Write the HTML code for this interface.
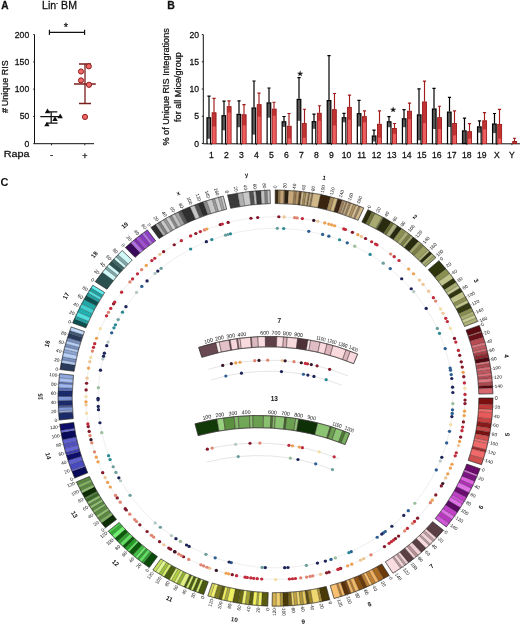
<!DOCTYPE html>
<html><head><meta charset="utf-8"><style>
html,body{margin:0;padding:0;background:#fff;width:520px;height:625px;overflow:hidden}
svg{display:block;will-change:transform;filter:blur(0.3px)}
text{font-family:"Liberation Sans", sans-serif;fill:#111}
.ab text{stroke:#111;stroke-width:0.26px}
</style></head><body>
<svg width="520" height="625" viewBox="0 0 520 625">
<g class="ab">
<text x="1.2" y="8.8" font-size="10.1" font-weight="bold">A</text>
<text x="42.0" y="9.0" font-size="10.2" textLength="35" lengthAdjust="spacingAndGlyphs">Lin<tspan font-size="6" dy="-3.6">-</tspan><tspan dy="3.6"> BM</tspan></text>
<path d="M49.4 32.3H84.6M49.4 29.8V35.0M84.6 29.8V35.0" stroke="#111" stroke-width="1.15" fill="none"/>
<text x="66.0" y="31.2" font-size="11" text-anchor="middle" stroke="#111" stroke-width="0.3">*</text>
<path d="M34.5 34.6V143.7H94" stroke="#111" stroke-width="1" fill="none"/>
<path d="M33.2 143.7H34.5" stroke="#111" stroke-width="0.9"/>
<text x="29.2" y="146.7" font-size="8.6" text-anchor="end">0</text>
<path d="M33.2 116.4H34.5" stroke="#111" stroke-width="0.9"/>
<text x="29.2" y="119.4" font-size="8.6" text-anchor="end">50</text>
<path d="M33.2 89.1H34.5" stroke="#111" stroke-width="0.9"/>
<text x="29.2" y="92.1" font-size="8.6" text-anchor="end">100</text>
<path d="M33.2 61.9H34.5" stroke="#111" stroke-width="0.9"/>
<text x="29.2" y="64.9" font-size="8.6" text-anchor="end">150</text>
<path d="M33.2 34.6H34.5" stroke="#111" stroke-width="0.9"/>
<text x="29.2" y="37.6" font-size="8.6" text-anchor="end">200</text>
<path d="M51.5 143.7V145.29999999999998" stroke="#111" stroke-width="0.9"/>
<path d="M84.8 143.7V145.29999999999998" stroke="#111" stroke-width="0.9"/>
<text x="3.8" y="156.9" font-size="9.8" textLength="25.8" lengthAdjust="spacingAndGlyphs">Rapa</text>
<text x="51.5" y="158.4" font-size="9" text-anchor="middle">-</text>
<text x="84.8" y="158.6" font-size="9" text-anchor="middle">+</text>
<text transform="translate(8.2,86.7) rotate(-90)" font-size="9" text-anchor="middle">#&#8201;Unique RIS</text>
<path d="M40.3 116.6H61.3M51.2 111.9V123.1M46.4 111.9H57.3M47.0 123.1H57.6" stroke="#111" stroke-width="1.25"/>
<path d="M47.5 108.6L50.2 113.2H44.8Z" fill="#111"/>
<path d="M60.2 113.6L62.9 118.2H57.5Z" fill="#111"/>
<path d="M55.0 116.3L57.7 120.9H52.3Z" fill="#111"/>
<path d="M46.9 121.7L49.6 126.3H44.2Z" fill="#111"/>
<path d="M74 84H95.8M85 64V103.5M79 64H91M79 103.5H91" stroke="#7a1e1e" stroke-width="1.3"/>
<circle cx="88.8" cy="66.3" r="2.6" fill="#ee6868" stroke="#8a1818" stroke-width="0.95"/>
<circle cx="81.0" cy="71.5" r="2.6" fill="#ee6868" stroke="#8a1818" stroke-width="0.95"/>
<circle cx="81.0" cy="80.4" r="2.6" fill="#ee6868" stroke="#8a1818" stroke-width="0.95"/>
<circle cx="89.0" cy="84.8" r="2.6" fill="#ee6868" stroke="#8a1818" stroke-width="0.95"/>
<circle cx="85.0" cy="116.9" r="2.6" fill="#ee6868" stroke="#8a1818" stroke-width="0.95"/>
<text x="167.3" y="9.0" font-size="10.5" font-weight="bold">B</text>
<path d="M203.3 34.6V143.8H520" stroke="#111" stroke-width="1" fill="none"/>
<path d="M201.8 143.5H203.3" stroke="#111" stroke-width="0.9"/>
<text x="199.0" y="146.5" font-size="8.6" text-anchor="end">0</text>
<path d="M201.8 116.3H203.3" stroke="#111" stroke-width="0.9"/>
<text x="199.0" y="119.3" font-size="8.6" text-anchor="end">5</text>
<path d="M201.8 89.0H203.3" stroke="#111" stroke-width="0.9"/>
<text x="199.0" y="92.0" font-size="8.6" text-anchor="end">10</text>
<path d="M201.8 61.8H203.3" stroke="#111" stroke-width="0.9"/>
<text x="199.0" y="64.8" font-size="8.6" text-anchor="end">15</text>
<path d="M201.8 34.6H203.3" stroke="#111" stroke-width="0.9"/>
<text x="199.0" y="37.6" font-size="8.6" text-anchor="end">20</text>
<text transform="translate(168.9,86.9) rotate(-90)" font-size="9.1" text-anchor="middle">% of Unique RIS Integrations</text>
<text transform="translate(180.9,87.05) rotate(-90)" font-size="9.1" text-anchor="middle">for all Mice/group</text>
<text x="211.3" y="157.8" font-size="8.6" text-anchor="middle">1</text>
<path d="M211.3 143.5V145.1" stroke="#111" stroke-width="0.8"/>
<path d="M209.00 117.2V96.2M207.40 96.2H210.60" stroke="#000" stroke-width="1.2"/>
<rect x="207.00" y="117.80" width="3.60" height="25.70" fill="#575757" stroke="#000" stroke-width="1.2"/>
<rect x="207.70" y="138.80" width="2.20" height="4.70" fill="#fff"/>
<path d="M214.00 112.3V98.3M212.40 98.3H215.60" stroke="#a01c1c" stroke-width="1.15"/>
<rect x="212.15" y="112.75" width="3.90" height="30.75" fill="#c23434" stroke="#9a1818" stroke-width="0.9"/>
<rect x="212.60" y="126.50" width="3.00" height="17.00" fill="#ee5e5e"/>
<text x="226.3" y="157.8" font-size="8.6" text-anchor="middle">2</text>
<path d="M226.3 143.5V145.1" stroke="#111" stroke-width="0.8"/>
<path d="M224.00 115.1V101.2M222.40 101.2H225.60" stroke="#000" stroke-width="1.2"/>
<rect x="222.03" y="115.70" width="3.60" height="27.80" fill="#575757" stroke="#000" stroke-width="1.2"/>
<rect x="222.73" y="130.30" width="2.20" height="13.20" fill="#fff"/>
<path d="M229.00 106.2V100.9M227.40 100.9H230.60" stroke="#a01c1c" stroke-width="1.15"/>
<rect x="227.18" y="106.65" width="3.90" height="36.85" fill="#c23434" stroke="#9a1818" stroke-width="0.9"/>
<rect x="227.63" y="112.60" width="3.00" height="30.90" fill="#ee5e5e"/>
<text x="241.4" y="157.8" font-size="8.6" text-anchor="middle">3</text>
<path d="M241.4 143.5V145.1" stroke="#111" stroke-width="0.8"/>
<path d="M239.00 113.8V100.8M237.40 100.8H240.60" stroke="#000" stroke-width="1.2"/>
<rect x="237.06" y="114.40" width="3.60" height="29.10" fill="#575757" stroke="#000" stroke-width="1.2"/>
<rect x="237.76" y="127.20" width="2.20" height="16.30" fill="#fff"/>
<path d="M244.00 114.3V104.6M242.40 104.6H245.60" stroke="#a01c1c" stroke-width="1.15"/>
<rect x="242.21" y="114.75" width="3.90" height="28.75" fill="#c23434" stroke="#9a1818" stroke-width="0.9"/>
<rect x="242.66" y="125.40" width="3.00" height="18.10" fill="#ee5e5e"/>
<text x="256.4" y="157.8" font-size="8.6" text-anchor="middle">4</text>
<path d="M256.4 143.5V145.1" stroke="#111" stroke-width="0.8"/>
<path d="M254.00 107.4V81.0M252.40 81.0H255.60" stroke="#000" stroke-width="1.2"/>
<rect x="252.09" y="108.00" width="3.60" height="35.50" fill="#575757" stroke="#000" stroke-width="1.2"/>
<rect x="252.79" y="134.60" width="2.20" height="8.90" fill="#fff"/>
<path d="M259.00 104.2V93.1M257.40 93.1H260.60" stroke="#a01c1c" stroke-width="1.15"/>
<rect x="257.24" y="104.65" width="3.90" height="38.85" fill="#c23434" stroke="#9a1818" stroke-width="0.9"/>
<rect x="257.69" y="116.60" width="3.00" height="26.90" fill="#ee5e5e"/>
<text x="271.4" y="157.8" font-size="8.6" text-anchor="middle">5</text>
<path d="M271.4 143.5V145.1" stroke="#111" stroke-width="0.8"/>
<path d="M269.00 102.3V88.0M267.40 88.0H270.60" stroke="#000" stroke-width="1.2"/>
<rect x="267.12" y="102.90" width="3.60" height="40.60" fill="#575757" stroke="#000" stroke-width="1.2"/>
<rect x="267.82" y="117.70" width="2.20" height="25.80" fill="#fff"/>
<path d="M274.00 108.6V102.2M272.40 102.2H275.60" stroke="#a01c1c" stroke-width="1.15"/>
<rect x="272.27" y="109.05" width="3.90" height="34.45" fill="#c23434" stroke="#9a1818" stroke-width="0.9"/>
<rect x="272.72" y="115.70" width="3.00" height="27.80" fill="#ee5e5e"/>
<text x="286.4" y="157.8" font-size="8.6" text-anchor="middle">6</text>
<path d="M286.4 143.5V145.1" stroke="#111" stroke-width="0.8"/>
<path d="M284.00 121.2V116.5M282.40 116.5H285.60" stroke="#000" stroke-width="1.2"/>
<rect x="282.15" y="121.80" width="3.60" height="21.70" fill="#575757" stroke="#000" stroke-width="1.2"/>
<rect x="282.85" y="126.90" width="2.20" height="16.60" fill="#fff"/>
<path d="M289.00 125.8V113.5M287.40 113.5H290.60" stroke="#a01c1c" stroke-width="1.15"/>
<rect x="287.30" y="126.25" width="3.90" height="17.25" fill="#c23434" stroke="#9a1818" stroke-width="0.9"/>
<rect x="287.75" y="138.50" width="3.00" height="5.00" fill="#ee5e5e"/>
<text x="301.5" y="157.8" font-size="8.6" text-anchor="middle">7</text>
<path d="M301.5 143.5V145.1" stroke="#111" stroke-width="0.8"/>
<path d="M299.00 98.8V77.7M297.40 77.7H300.60" stroke="#000" stroke-width="1.2"/>
<rect x="297.18" y="99.40" width="3.60" height="44.10" fill="#575757" stroke="#000" stroke-width="1.2"/>
<rect x="297.88" y="120.80" width="2.20" height="22.70" fill="#fff"/>
<path d="M304.50 123.1V109.2M302.90 109.2H306.10" stroke="#a01c1c" stroke-width="1.15"/>
<rect x="302.33" y="123.55" width="3.90" height="19.95" fill="#c23434" stroke="#9a1818" stroke-width="0.9"/>
<rect x="302.78" y="137.70" width="3.00" height="5.80" fill="#ee5e5e"/>
<text x="316.5" y="157.8" font-size="8.6" text-anchor="middle">8</text>
<path d="M316.5 143.5V145.1" stroke="#111" stroke-width="0.8"/>
<path d="M314.00 121.1V114.2M312.40 114.2H315.60" stroke="#000" stroke-width="1.2"/>
<rect x="312.21" y="121.70" width="3.60" height="21.80" fill="#575757" stroke="#000" stroke-width="1.2"/>
<rect x="312.91" y="128.80" width="2.20" height="14.70" fill="#fff"/>
<path d="M319.50 112.8V105.7M317.90 105.7H321.10" stroke="#a01c1c" stroke-width="1.15"/>
<rect x="317.36" y="113.25" width="3.90" height="30.25" fill="#c23434" stroke="#9a1818" stroke-width="0.9"/>
<rect x="317.81" y="120.80" width="3.00" height="22.70" fill="#ee5e5e"/>
<text x="331.5" y="157.8" font-size="8.6" text-anchor="middle">9</text>
<path d="M331.5 143.5V145.1" stroke="#111" stroke-width="0.8"/>
<path d="M329.00 100.0V55.6M327.40 55.6H330.60" stroke="#000" stroke-width="1.2"/>
<rect x="327.24" y="100.60" width="3.60" height="42.90" fill="#575757" stroke="#000" stroke-width="1.2"/>
<path d="M334.50 109.2V93.5M332.90 93.5H336.10" stroke="#a01c1c" stroke-width="1.15"/>
<rect x="332.39" y="109.65" width="3.90" height="33.85" fill="#c23434" stroke="#9a1818" stroke-width="0.9"/>
<rect x="332.84" y="125.40" width="3.00" height="18.10" fill="#ee5e5e"/>
<text x="346.6" y="157.8" font-size="8.6" text-anchor="middle">10</text>
<path d="M346.6 143.5V145.1" stroke="#111" stroke-width="0.8"/>
<path d="M344.00 117.2V113.4M342.40 113.4H345.60" stroke="#000" stroke-width="1.2"/>
<rect x="342.27" y="117.80" width="3.60" height="25.70" fill="#575757" stroke="#000" stroke-width="1.2"/>
<rect x="342.97" y="122.30" width="2.20" height="21.20" fill="#fff"/>
<path d="M349.50 106.9V95.1M347.90 95.1H351.10" stroke="#a01c1c" stroke-width="1.15"/>
<rect x="347.42" y="107.35" width="3.90" height="36.15" fill="#c23434" stroke="#9a1818" stroke-width="0.9"/>
<rect x="347.87" y="119.70" width="3.00" height="23.80" fill="#ee5e5e"/>
<text x="361.6" y="157.8" font-size="8.6" text-anchor="middle">11</text>
<path d="M361.6 143.5V145.1" stroke="#111" stroke-width="0.8"/>
<path d="M359.00 113.1V100.3M357.40 100.3H360.60" stroke="#000" stroke-width="1.2"/>
<rect x="357.30" y="113.70" width="3.60" height="29.80" fill="#575757" stroke="#000" stroke-width="1.2"/>
<rect x="358.00" y="126.50" width="2.20" height="17.00" fill="#fff"/>
<path d="M364.50 116.2V110.8M362.90 110.8H366.10" stroke="#a01c1c" stroke-width="1.15"/>
<rect x="362.45" y="116.65" width="3.90" height="26.85" fill="#c23434" stroke="#9a1818" stroke-width="0.9"/>
<rect x="362.90" y="122.30" width="3.00" height="21.20" fill="#ee5e5e"/>
<text x="376.6" y="157.8" font-size="8.6" text-anchor="middle">12</text>
<path d="M376.6 143.5V145.1" stroke="#111" stroke-width="0.8"/>
<path d="M374.00 135.4V130.2M372.40 130.2H375.60" stroke="#000" stroke-width="1.2"/>
<rect x="372.33" y="136.00" width="3.60" height="7.50" fill="#575757" stroke="#000" stroke-width="1.2"/>
<rect x="373.03" y="141.50" width="2.20" height="2.00" fill="#fff"/>
<path d="M379.50 123.8V110.8M377.90 110.8H381.10" stroke="#a01c1c" stroke-width="1.15"/>
<rect x="377.48" y="124.25" width="3.90" height="19.25" fill="#c23434" stroke="#9a1818" stroke-width="0.9"/>
<rect x="377.93" y="137.70" width="3.00" height="5.80" fill="#ee5e5e"/>
<text x="391.7" y="157.8" font-size="8.6" text-anchor="middle">13</text>
<path d="M391.7 143.5V145.1" stroke="#111" stroke-width="0.8"/>
<path d="M389.00 121.2V116.6M387.40 116.6H390.60" stroke="#000" stroke-width="1.2"/>
<rect x="387.36" y="121.80" width="3.60" height="21.70" fill="#575757" stroke="#000" stroke-width="1.2"/>
<rect x="388.06" y="127.20" width="2.20" height="16.30" fill="#fff"/>
<path d="M394.50 128.0V123.5M392.90 123.5H396.10" stroke="#a01c1c" stroke-width="1.15"/>
<rect x="392.51" y="128.45" width="3.90" height="15.05" fill="#c23434" stroke="#9a1818" stroke-width="0.9"/>
<rect x="392.96" y="133.80" width="3.00" height="9.70" fill="#ee5e5e"/>
<text x="406.7" y="157.8" font-size="8.6" text-anchor="middle">14</text>
<path d="M406.7 143.5V145.1" stroke="#111" stroke-width="0.8"/>
<path d="M404.00 118.2V109.7M402.40 109.7H405.60" stroke="#000" stroke-width="1.2"/>
<rect x="402.39" y="118.80" width="3.60" height="24.70" fill="#575757" stroke="#000" stroke-width="1.2"/>
<rect x="403.09" y="127.20" width="2.20" height="16.30" fill="#fff"/>
<path d="M409.50 110.8V103.1M407.90 103.1H411.10" stroke="#a01c1c" stroke-width="1.15"/>
<rect x="407.54" y="111.25" width="3.90" height="32.25" fill="#c23434" stroke="#9a1818" stroke-width="0.9"/>
<rect x="407.99" y="119.20" width="3.00" height="24.30" fill="#ee5e5e"/>
<text x="421.7" y="157.8" font-size="8.6" text-anchor="middle">15</text>
<path d="M421.7 143.5V145.1" stroke="#111" stroke-width="0.8"/>
<path d="M419.00 114.3V88.8M417.40 88.8H420.60" stroke="#000" stroke-width="1.2"/>
<rect x="417.42" y="114.90" width="3.60" height="28.60" fill="#575757" stroke="#000" stroke-width="1.2"/>
<rect x="418.12" y="140.30" width="2.20" height="3.20" fill="#fff"/>
<path d="M424.50 101.5V81.1M422.90 81.1H426.10" stroke="#a01c1c" stroke-width="1.15"/>
<rect x="422.57" y="101.95" width="3.90" height="41.55" fill="#c23434" stroke="#9a1818" stroke-width="0.9"/>
<rect x="423.02" y="123.10" width="3.00" height="20.40" fill="#ee5e5e"/>
<text x="436.8" y="157.8" font-size="8.6" text-anchor="middle">16</text>
<path d="M436.8 143.5V145.1" stroke="#111" stroke-width="0.8"/>
<path d="M434.00 108.4V88.3M432.40 88.3H435.60" stroke="#000" stroke-width="1.2"/>
<rect x="432.45" y="109.00" width="3.60" height="34.50" fill="#575757" stroke="#000" stroke-width="1.2"/>
<rect x="433.15" y="129.00" width="2.20" height="14.50" fill="#fff"/>
<path d="M439.50 117.2V106.2M437.90 106.2H441.10" stroke="#a01c1c" stroke-width="1.15"/>
<rect x="437.60" y="117.65" width="3.90" height="25.85" fill="#c23434" stroke="#9a1818" stroke-width="0.9"/>
<rect x="438.05" y="129.00" width="3.00" height="14.50" fill="#ee5e5e"/>
<text x="451.8" y="157.8" font-size="8.6" text-anchor="middle">17</text>
<path d="M451.8 143.5V145.1" stroke="#111" stroke-width="0.8"/>
<path d="M449.50 111.5V97.4M447.90 97.4H451.10" stroke="#000" stroke-width="1.2"/>
<rect x="447.48" y="112.10" width="3.60" height="31.40" fill="#575757" stroke="#000" stroke-width="1.2"/>
<rect x="448.18" y="127.00" width="2.20" height="16.50" fill="#fff"/>
<path d="M454.50 123.0V110.8M452.90 110.8H456.10" stroke="#a01c1c" stroke-width="1.15"/>
<rect x="452.63" y="123.45" width="3.90" height="20.05" fill="#c23434" stroke="#9a1818" stroke-width="0.9"/>
<rect x="453.08" y="135.40" width="3.00" height="8.10" fill="#ee5e5e"/>
<text x="466.8" y="157.8" font-size="8.6" text-anchor="middle">18</text>
<path d="M466.8 143.5V145.1" stroke="#111" stroke-width="0.8"/>
<path d="M464.50 130.3V118.1M462.90 118.1H466.10" stroke="#000" stroke-width="1.2"/>
<rect x="462.51" y="130.90" width="3.60" height="12.60" fill="#575757" stroke="#000" stroke-width="1.2"/>
<path d="M469.50 131.2V123.6M467.90 123.6H471.10" stroke="#a01c1c" stroke-width="1.15"/>
<rect x="467.66" y="131.65" width="3.90" height="11.85" fill="#c23434" stroke="#9a1818" stroke-width="0.9"/>
<rect x="468.11" y="138.60" width="3.00" height="4.90" fill="#ee5e5e"/>
<text x="481.8" y="157.8" font-size="8.6" text-anchor="middle">19</text>
<path d="M481.8 143.5V145.1" stroke="#111" stroke-width="0.8"/>
<path d="M479.50 126.3V120.8M477.90 120.8H481.10" stroke="#000" stroke-width="1.2"/>
<rect x="477.54" y="126.90" width="3.60" height="16.60" fill="#575757" stroke="#000" stroke-width="1.2"/>
<rect x="478.24" y="132.70" width="2.20" height="10.80" fill="#fff"/>
<path d="M484.50 120.3V112.6M482.90 112.6H486.10" stroke="#a01c1c" stroke-width="1.15"/>
<rect x="482.69" y="120.75" width="3.90" height="22.75" fill="#c23434" stroke="#9a1818" stroke-width="0.9"/>
<rect x="483.14" y="129.40" width="3.00" height="14.10" fill="#ee5e5e"/>
<text x="496.9" y="157.8" font-size="8.6" text-anchor="middle">X</text>
<path d="M496.9 143.5V145.1" stroke="#111" stroke-width="0.8"/>
<path d="M494.50 123.4V113.5M492.90 113.5H496.10" stroke="#000" stroke-width="1.2"/>
<rect x="492.57" y="124.00" width="3.60" height="19.50" fill="#575757" stroke="#000" stroke-width="1.2"/>
<rect x="493.27" y="133.10" width="2.20" height="10.40" fill="#fff"/>
<path d="M499.50 124.0V109.3M497.90 109.3H501.10" stroke="#a01c1c" stroke-width="1.15"/>
<rect x="497.72" y="124.45" width="3.90" height="19.05" fill="#c23434" stroke="#9a1818" stroke-width="0.9"/>
<rect x="498.17" y="138.60" width="3.00" height="4.90" fill="#ee5e5e"/>
<text x="511.9" y="157.8" font-size="8.6" text-anchor="middle">Y</text>
<path d="M511.9 143.5V145.1" stroke="#111" stroke-width="0.8"/>
<path d="M514.50 141.0V138.2M512.90 138.2H516.10" stroke="#a01c1c" stroke-width="1.15"/>
<rect x="512.75" y="141.45" width="3.90" height="2.05" fill="#c23434" stroke="#9a1818" stroke-width="0.9"/>
<rect x="513.20" y="143.50" width="3.00" height="0.00" fill="#ee5e5e"/>
<text x="300.4" y="75.6" font-size="6.5" text-anchor="middle">&#9733;</text>
<text x="392.8" y="111.8" font-size="6.5" text-anchor="middle">&#9733;</text>
</g>
<text x="0.6" y="185.7" font-size="11" font-weight="bold">C</text>
<g transform="translate(275.5,398.1) scale(1.045,1)">
<circle r="181.4" fill="none" stroke="#e4e4e4" stroke-width="0.6"/>
<circle r="169.8" fill="none" stroke="#e4e4e4" stroke-width="0.6"/>
<path d="M-0.27 -208.10A208.1 208.1 0 0 1 2.85 -208.08L2.67 -194.58A194.6 194.6 0 0 0 -0.25 -194.60Z" fill="#3a2a14" stroke="#222" stroke-width="0.25"/>
<path d="M2.85 -208.08A208.1 208.1 0 0 1 4.64 -208.05L4.34 -194.55A194.6 194.6 0 0 0 2.67 -194.58Z" fill="#a08050" stroke="#222" stroke-width="0.25"/>
<path d="M4.64 -208.05A208.1 208.1 0 0 1 8.21 -207.94L7.68 -194.45A194.6 194.6 0 0 0 4.34 -194.55Z" fill="#c4a070" stroke="#222" stroke-width="0.25"/>
<path d="M8.21 -207.94A208.1 208.1 0 0 1 9.11 -207.90L8.52 -194.41A194.6 194.6 0 0 0 7.68 -194.45Z" fill="#8a6a40" stroke="#222" stroke-width="0.25"/>
<path d="M9.11 -207.90A208.1 208.1 0 0 1 12.68 -207.71L11.85 -194.24A194.6 194.6 0 0 0 8.52 -194.41Z" fill="#2e2010" stroke="#222" stroke-width="0.25"/>
<path d="M12.68 -207.71A208.1 208.1 0 0 1 18.02 -207.32L16.85 -193.87A194.6 194.6 0 0 0 11.85 -194.24Z" fill="#c8a878" stroke="#222" stroke-width="0.25"/>
<path d="M18.02 -207.32A208.1 208.1 0 0 1 20.25 -207.11L18.93 -193.68A194.6 194.6 0 0 0 16.85 -193.87Z" fill="#9a7a4c" stroke="#222" stroke-width="0.25"/>
<path d="M20.25 -207.11A208.1 208.1 0 0 1 22.91 -206.83L21.43 -193.42A194.6 194.6 0 0 0 18.93 -193.68Z" fill="#b89868" stroke="#222" stroke-width="0.25"/>
<path d="M22.91 -206.83A208.1 208.1 0 0 1 25.13 -206.58L23.50 -193.18A194.6 194.6 0 0 0 21.43 -193.42Z" fill="#5a4020" stroke="#222" stroke-width="0.25"/>
<path d="M25.13 -206.58A208.1 208.1 0 0 1 27.35 -206.30L25.57 -192.91A194.6 194.6 0 0 0 23.50 -193.18Z" fill="#d0b888" stroke="#222" stroke-width="0.25"/>
<path d="M27.35 -206.30A208.1 208.1 0 0 1 29.56 -205.99L27.64 -192.63A194.6 194.6 0 0 0 25.57 -192.91Z" fill="#a08858" stroke="#222" stroke-width="0.25"/>
<path d="M29.56 -205.99A208.1 208.1 0 0 1 31.77 -205.66L29.71 -192.32A194.6 194.6 0 0 0 27.64 -192.63Z" fill="#c8b080" stroke="#222" stroke-width="0.25"/>
<path d="M31.77 -205.66A208.1 208.1 0 0 1 33.09 -205.45L30.95 -192.12A194.6 194.6 0 0 0 29.71 -192.32Z" fill="#8a7048" stroke="#222" stroke-width="0.25"/>
<path d="M33.09 -205.45A208.1 208.1 0 0 1 34.85 -205.16L32.59 -191.85A194.6 194.6 0 0 0 30.95 -192.12Z" fill="#d0b888" stroke="#222" stroke-width="0.25"/>
<path d="M34.85 -205.16A208.1 208.1 0 0 1 36.18 -204.93L33.83 -191.64A194.6 194.6 0 0 0 32.59 -191.85Z" fill="#9a8050" stroke="#222" stroke-width="0.25"/>
<path d="M36.18 -204.93A208.1 208.1 0 0 1 43.19 -203.57L40.39 -190.36A194.6 194.6 0 0 0 33.83 -191.64Z" fill="#d0b888" stroke="#222" stroke-width="0.25"/>
<path d="M43.19 -203.57A208.1 208.1 0 0 1 52.75 -201.30L49.33 -188.24A194.6 194.6 0 0 0 40.39 -190.36Z" fill="#3a2410" stroke="#222" stroke-width="0.25"/>
<path d="M52.75 -201.30A208.1 208.1 0 0 1 56.20 -200.37L52.56 -187.37A194.6 194.6 0 0 0 49.33 -188.24Z" fill="#a88a58" stroke="#222" stroke-width="0.25"/>
<path d="M56.20 -200.37A208.1 208.1 0 0 1 59.64 -199.37L55.77 -186.44A194.6 194.6 0 0 0 52.56 -187.37Z" fill="#d0b880" stroke="#222" stroke-width="0.25"/>
<path d="M59.64 -199.37A208.1 208.1 0 0 1 63.90 -198.05L59.76 -185.20A194.6 194.6 0 0 0 55.77 -186.44Z" fill="#3a2412" stroke="#222" stroke-width="0.25"/>
<path d="M63.90 -198.05A208.1 208.1 0 0 1 66.45 -197.21L62.14 -184.41A194.6 194.6 0 0 0 59.76 -185.20Z" fill="#a08060" stroke="#222" stroke-width="0.25"/>
<path d="M66.45 -197.21A208.1 208.1 0 0 1 67.72 -196.77L63.32 -184.01A194.6 194.6 0 0 0 62.14 -184.41Z" fill="#d0b888" stroke="#222" stroke-width="0.25"/>
<path d="M67.72 -196.77A208.1 208.1 0 0 1 68.98 -196.33L64.51 -183.60A194.6 194.6 0 0 0 63.32 -184.01Z" fill="#a08060" stroke="#222" stroke-width="0.25"/>
<path d="M68.98 -196.33A208.1 208.1 0 0 1 70.67 -195.73L66.08 -183.04A194.6 194.6 0 0 0 64.51 -183.60Z" fill="#d0b888" stroke="#222" stroke-width="0.25"/>
<path d="M70.67 -195.73A208.1 208.1 0 0 1 72.34 -195.12L67.65 -182.46A194.6 194.6 0 0 0 66.08 -183.04Z" fill="#a08060" stroke="#222" stroke-width="0.25"/>
<path d="M72.34 -195.12A208.1 208.1 0 0 1 74.85 -194.17L70.00 -181.58A194.6 194.6 0 0 0 67.65 -182.46Z" fill="#d0b888" stroke="#222" stroke-width="0.25"/>
<path d="M74.85 -194.17A208.1 208.1 0 0 1 77.35 -193.19L72.33 -180.66A194.6 194.6 0 0 0 70.00 -181.58Z" fill="#b09060" stroke="#222" stroke-width="0.25"/>
<path d="M77.35 -193.19A208.1 208.1 0 0 1 79.83 -192.18L74.65 -179.71A194.6 194.6 0 0 0 72.33 -180.66Z" fill="#d4bc8c" stroke="#222" stroke-width="0.25"/>
<path d="M79.83 -192.18A208.1 208.1 0 0 1 81.47 -191.49L76.19 -179.07A194.6 194.6 0 0 0 74.65 -179.71Z" fill="#a08060" stroke="#222" stroke-width="0.25"/>
<path d="M81.47 -191.49A208.1 208.1 0 0 1 84.54 -190.16L79.05 -177.82A194.6 194.6 0 0 0 76.19 -179.07Z" fill="#d0b888" stroke="#222" stroke-width="0.25"/>
<path d="M-0.27 -208.10A208.1 208.1 0 0 1 84.54 -190.16L79.05 -177.82A194.6 194.6 0 0 0 -0.25 -194.60Z" fill="none" stroke="#222" stroke-width="0.5"/>
<path d="M-0.27 -208.40L-0.27 -209.90" stroke="#666" stroke-width="0.4"/>
<text transform="translate(-0.28,-210.10) rotate(89.9)" font-size="4.6" fill="#6a6a6a" text-anchor="end" dy="1.6">0</text>
<path d="M8.67 -208.22L8.73 -209.72" stroke="#666" stroke-width="0.4"/>
<text transform="translate(8.74,-209.92) rotate(-87.6)" font-size="4.6" fill="#6a6a6a" text-anchor="start" dy="1.6">20</text>
<path d="M17.60 -207.66L17.73 -209.15" stroke="#666" stroke-width="0.4"/>
<text transform="translate(17.75,-209.35) rotate(-85.2)" font-size="4.6" fill="#6a6a6a" text-anchor="start" dy="1.6">40</text>
<path d="M26.50 -206.71L26.69 -208.20" stroke="#666" stroke-width="0.4"/>
<text transform="translate(26.71,-208.39) rotate(-82.7)" font-size="4.6" fill="#6a6a6a" text-anchor="start" dy="1.6">60</text>
<path d="M35.35 -205.38L35.60 -206.86" stroke="#666" stroke-width="0.4"/>
<text transform="translate(35.63,-207.06) rotate(-80.2)" font-size="4.6" fill="#6a6a6a" text-anchor="start" dy="1.6">80</text>
<path d="M44.13 -203.67L44.45 -205.14" stroke="#666" stroke-width="0.4"/>
<text transform="translate(44.49,-205.34) rotate(-77.8)" font-size="4.6" fill="#6a6a6a" text-anchor="start" dy="1.6">100</text>
<path d="M52.83 -201.59L53.21 -203.04" stroke="#666" stroke-width="0.4"/>
<text transform="translate(53.26,-203.24) rotate(-75.3)" font-size="4.6" fill="#6a6a6a" text-anchor="start" dy="1.6">120</text>
<path d="M61.43 -199.14L61.88 -200.57" stroke="#666" stroke-width="0.4"/>
<text transform="translate(61.94,-200.76) rotate(-72.9)" font-size="4.6" fill="#6a6a6a" text-anchor="start" dy="1.6">140</text>
<path d="M69.93 -196.32L70.43 -197.73" stroke="#666" stroke-width="0.4"/>
<text transform="translate(70.50,-197.92) rotate(-70.4)" font-size="4.6" fill="#6a6a6a" text-anchor="start" dy="1.6">160</text>
<path d="M78.29 -193.14L78.85 -194.53" stroke="#666" stroke-width="0.4"/>
<text transform="translate(78.93,-194.71) rotate(-67.9)" font-size="4.6" fill="#6a6a6a" text-anchor="start" dy="1.6">180</text>
<text transform="translate(46.57,-220.13) rotate(11.9)" font-size="6" font-weight="bold" font-family="Liberation Serif, serif" text-anchor="middle" dy="2">1</text>
<path d="M88.40 -188.39A208.1 208.1 0 0 1 92.42 -186.45L86.43 -174.35A194.6 194.6 0 0 0 82.67 -176.17Z" fill="#2a2c0c" stroke="#222" stroke-width="0.25"/>
<path d="M92.42 -186.45A208.1 208.1 0 0 1 95.61 -184.83L89.41 -172.84A194.6 194.6 0 0 0 86.43 -174.35Z" fill="#6e7238" stroke="#222" stroke-width="0.25"/>
<path d="M95.61 -184.83A208.1 208.1 0 0 1 102.29 -181.22L95.66 -169.47A194.6 194.6 0 0 0 89.41 -172.84Z" fill="#a8aa70" stroke="#222" stroke-width="0.25"/>
<path d="M102.29 -181.22A208.1 208.1 0 0 1 103.46 -180.56L96.75 -168.85A194.6 194.6 0 0 0 95.66 -169.47Z" fill="#7a7e44" stroke="#222" stroke-width="0.25"/>
<path d="M103.46 -180.56A208.1 208.1 0 0 1 110.73 -176.19L103.55 -164.76A194.6 194.6 0 0 0 96.75 -168.85Z" fill="#2a2c10" stroke="#222" stroke-width="0.25"/>
<path d="M110.73 -176.19A208.1 208.1 0 0 1 113.37 -174.51L106.01 -163.19A194.6 194.6 0 0 0 103.55 -164.76Z" fill="#6a6e34" stroke="#222" stroke-width="0.25"/>
<path d="M113.37 -174.51A208.1 208.1 0 0 1 116.72 -172.29L109.15 -161.11A194.6 194.6 0 0 0 106.01 -163.19Z" fill="#a8ac78" stroke="#222" stroke-width="0.25"/>
<path d="M116.72 -172.29A208.1 208.1 0 0 1 120.75 -169.48L112.92 -158.49A194.6 194.6 0 0 0 109.15 -161.11Z" fill="#262810" stroke="#222" stroke-width="0.25"/>
<path d="M120.75 -169.48A208.1 208.1 0 0 1 124.72 -166.58L116.63 -155.78A194.6 194.6 0 0 0 112.92 -158.49Z" fill="#8a8e50" stroke="#222" stroke-width="0.25"/>
<path d="M124.72 -166.58A208.1 208.1 0 0 1 127.57 -164.42L119.29 -153.75A194.6 194.6 0 0 0 116.63 -155.78Z" fill="#a8ac70" stroke="#222" stroke-width="0.25"/>
<path d="M127.57 -164.42A208.1 208.1 0 0 1 130.02 -162.48L121.59 -151.94A194.6 194.6 0 0 0 119.29 -153.75Z" fill="#7a7e44" stroke="#222" stroke-width="0.25"/>
<path d="M130.02 -162.48A208.1 208.1 0 0 1 131.76 -161.08L123.21 -150.63A194.6 194.6 0 0 0 121.59 -151.94Z" fill="#a8ac70" stroke="#222" stroke-width="0.25"/>
<path d="M131.76 -161.08A208.1 208.1 0 0 1 136.88 -156.75L128.00 -146.58A194.6 194.6 0 0 0 123.21 -150.63Z" fill="#2a2c10" stroke="#222" stroke-width="0.25"/>
<path d="M136.88 -156.75A208.1 208.1 0 0 1 139.22 -154.68L130.18 -144.64A194.6 194.6 0 0 0 128.00 -146.58Z" fill="#a0a468" stroke="#222" stroke-width="0.25"/>
<path d="M139.22 -154.68A208.1 208.1 0 0 1 141.85 -152.26L132.65 -142.38A194.6 194.6 0 0 0 130.18 -144.64Z" fill="#7a7e44" stroke="#222" stroke-width="0.25"/>
<path d="M141.85 -152.26A208.1 208.1 0 0 1 146.05 -148.24L136.57 -138.63A194.6 194.6 0 0 0 132.65 -142.38Z" fill="#9a9e60" stroke="#222" stroke-width="0.25"/>
<path d="M146.05 -148.24A208.1 208.1 0 0 1 147.63 -146.67L138.05 -137.15A194.6 194.6 0 0 0 136.57 -138.63Z" fill="#b0b478" stroke="#222" stroke-width="0.25"/>
<path d="M147.63 -146.67A208.1 208.1 0 0 1 149.82 -144.43L140.10 -135.06A194.6 194.6 0 0 0 138.05 -137.15Z" fill="#2a2c10" stroke="#222" stroke-width="0.25"/>
<path d="M149.82 -144.43A208.1 208.1 0 0 1 151.66 -142.49L141.82 -133.25A194.6 194.6 0 0 0 140.10 -135.06Z" fill="#b0b478" stroke="#222" stroke-width="0.25"/>
<path d="M151.66 -142.49A208.1 208.1 0 0 1 153.52 -140.49L143.56 -131.38A194.6 194.6 0 0 0 141.82 -133.25Z" fill="#a0a468" stroke="#222" stroke-width="0.25"/>
<path d="M88.40 -188.39A208.1 208.1 0 0 1 153.52 -140.49L143.56 -131.38A194.6 194.6 0 0 0 82.67 -176.17Z" fill="none" stroke="#222" stroke-width="0.5"/>
<path d="M88.53 -188.66L89.16 -190.02" stroke="#666" stroke-width="0.4"/>
<text transform="translate(89.25,-190.20) rotate(-64.9)" font-size="4.6" fill="#6a6a6a" text-anchor="start" dy="1.6">0</text>
<path d="M96.54 -184.69L97.24 -186.02" stroke="#666" stroke-width="0.4"/>
<text transform="translate(97.33,-186.20) rotate(-62.4)" font-size="4.6" fill="#6a6a6a" text-anchor="start" dy="1.6">20</text>
<path d="M104.38 -180.37L105.13 -181.67" stroke="#666" stroke-width="0.4"/>
<text transform="translate(105.23,-181.85) rotate(-59.9)" font-size="4.6" fill="#6a6a6a" text-anchor="start" dy="1.6">40</text>
<path d="M112.03 -175.73L112.83 -176.99" stroke="#666" stroke-width="0.4"/>
<text transform="translate(112.94,-177.16) rotate(-57.5)" font-size="4.6" fill="#6a6a6a" text-anchor="start" dy="1.6">60</text>
<path d="M119.47 -170.76L120.33 -171.99" stroke="#666" stroke-width="0.4"/>
<text transform="translate(120.44,-172.15) rotate(-55.0)" font-size="4.6" fill="#6a6a6a" text-anchor="start" dy="1.6">80</text>
<path d="M126.69 -165.47L127.60 -166.66" stroke="#666" stroke-width="0.4"/>
<text transform="translate(127.72,-166.82) rotate(-52.6)" font-size="4.6" fill="#6a6a6a" text-anchor="start" dy="1.6">100</text>
<path d="M133.67 -159.88L134.63 -161.03" stroke="#666" stroke-width="0.4"/>
<text transform="translate(134.76,-161.19) rotate(-50.1)" font-size="4.6" fill="#6a6a6a" text-anchor="start" dy="1.6">120</text>
<path d="M140.41 -154.00L141.42 -155.11" stroke="#666" stroke-width="0.4"/>
<text transform="translate(141.56,-155.25) rotate(-47.6)" font-size="4.6" fill="#6a6a6a" text-anchor="start" dy="1.6">140</text>
<path d="M146.89 -147.83L147.95 -148.89" stroke="#666" stroke-width="0.4"/>
<text transform="translate(148.09,-149.03) rotate(-45.2)" font-size="4.6" fill="#6a6a6a" text-anchor="start" dy="1.6">160</text>
<path d="M153.10 -141.39L154.20 -142.41" stroke="#666" stroke-width="0.4"/>
<text transform="translate(154.35,-142.54) rotate(-42.7)" font-size="4.6" fill="#6a6a6a" text-anchor="start" dy="1.6">180</text>
<text transform="translate(133.32,-181.25) rotate(36.3)" font-size="6" font-weight="bold" font-family="Liberation Serif, serif" text-anchor="middle" dy="2">2</text>
<path d="M156.36 -137.33A208.1 208.1 0 0 1 163.22 -129.09L152.63 -120.72A194.6 194.6 0 0 0 146.21 -128.42Z" fill="#2e340c" stroke="#222" stroke-width="0.25"/>
<path d="M163.22 -129.09A208.1 208.1 0 0 1 166.76 -124.49L155.94 -116.41A194.6 194.6 0 0 0 152.63 -120.72Z" fill="#8a9050" stroke="#222" stroke-width="0.25"/>
<path d="M166.76 -124.49A208.1 208.1 0 0 1 170.17 -119.79L159.13 -112.01A194.6 194.6 0 0 0 155.94 -116.41Z" fill="#c0c488" stroke="#222" stroke-width="0.25"/>
<path d="M170.17 -119.79A208.1 208.1 0 0 1 172.95 -115.73L161.73 -108.23A194.6 194.6 0 0 0 159.13 -112.01Z" fill="#2e340c" stroke="#222" stroke-width="0.25"/>
<path d="M172.95 -115.73A208.1 208.1 0 0 1 174.91 -112.75L163.56 -105.43A194.6 194.6 0 0 0 161.73 -108.23Z" fill="#a8ae70" stroke="#222" stroke-width="0.25"/>
<path d="M174.91 -112.75A208.1 208.1 0 0 1 176.59 -110.11L165.13 -102.96A194.6 194.6 0 0 0 163.56 -105.43Z" fill="#c4c890" stroke="#222" stroke-width="0.25"/>
<path d="M176.59 -110.11A208.1 208.1 0 0 1 178.91 -106.29L167.30 -99.39A194.6 194.6 0 0 0 165.13 -102.96Z" fill="#303610" stroke="#222" stroke-width="0.25"/>
<path d="M178.91 -106.29A208.1 208.1 0 0 1 181.80 -101.26L170.01 -94.69A194.6 194.6 0 0 0 167.30 -99.39Z" fill="#c0c488" stroke="#222" stroke-width="0.25"/>
<path d="M181.80 -101.26A208.1 208.1 0 0 1 183.52 -98.12L171.61 -91.75A194.6 194.6 0 0 0 170.01 -94.69Z" fill="#8a9050" stroke="#222" stroke-width="0.25"/>
<path d="M183.52 -98.12A208.1 208.1 0 0 1 184.97 -95.35L172.97 -89.16A194.6 194.6 0 0 0 171.61 -91.75Z" fill="#c0c488" stroke="#222" stroke-width="0.25"/>
<path d="M184.97 -95.35A208.1 208.1 0 0 1 187.56 -90.15L175.39 -84.30A194.6 194.6 0 0 0 172.97 -89.16Z" fill="#343a12" stroke="#222" stroke-width="0.25"/>
<path d="M187.56 -90.15A208.1 208.1 0 0 1 189.08 -86.92L176.81 -81.28A194.6 194.6 0 0 0 175.39 -84.30Z" fill="#8a9050" stroke="#222" stroke-width="0.25"/>
<path d="M189.08 -86.92A208.1 208.1 0 0 1 190.72 -83.25L178.35 -77.85A194.6 194.6 0 0 0 176.81 -81.28Z" fill="#a8ae70" stroke="#222" stroke-width="0.25"/>
<path d="M190.72 -83.25A208.1 208.1 0 0 1 192.12 -79.96L179.66 -74.77A194.6 194.6 0 0 0 178.35 -77.85Z" fill="#c8cc90" stroke="#222" stroke-width="0.25"/>
<path d="M192.12 -79.96A208.1 208.1 0 0 1 193.48 -76.63L180.92 -71.66A194.6 194.6 0 0 0 179.66 -74.77Z" fill="#b0b478" stroke="#222" stroke-width="0.25"/>
<path d="M156.36 -137.33A208.1 208.1 0 0 1 193.48 -76.63L180.92 -71.66A194.6 194.6 0 0 0 146.21 -128.42Z" fill="none" stroke="#222" stroke-width="0.5"/>
<path d="M156.58 -137.52L157.71 -138.51" stroke="#666" stroke-width="0.4"/>
<text transform="translate(157.86,-138.65) rotate(-41.3)" font-size="4.6" fill="#6a6a6a" text-anchor="start" dy="1.6">0</text>
<path d="M162.34 -130.68L163.51 -131.62" stroke="#666" stroke-width="0.4"/>
<text transform="translate(163.66,-131.74) rotate(-38.8)" font-size="4.6" fill="#6a6a6a" text-anchor="start" dy="1.6">20</text>
<path d="M167.80 -123.59L169.01 -124.48" stroke="#666" stroke-width="0.4"/>
<text transform="translate(169.17,-124.60) rotate(-36.4)" font-size="4.6" fill="#6a6a6a" text-anchor="start" dy="1.6">40</text>
<path d="M172.95 -116.27L174.19 -117.11" stroke="#666" stroke-width="0.4"/>
<text transform="translate(174.36,-117.22) rotate(-33.9)" font-size="4.6" fill="#6a6a6a" text-anchor="start" dy="1.6">60</text>
<path d="M177.78 -108.74L179.06 -109.52" stroke="#666" stroke-width="0.4"/>
<text transform="translate(179.23,-109.63) rotate(-31.5)" font-size="4.6" fill="#6a6a6a" text-anchor="start" dy="1.6">80</text>
<path d="M182.28 -101.01L183.60 -101.74" stroke="#666" stroke-width="0.4"/>
<text transform="translate(183.77,-101.83) rotate(-29.0)" font-size="4.6" fill="#6a6a6a" text-anchor="start" dy="1.6">100</text>
<path d="M186.45 -93.09L187.79 -93.76" stroke="#666" stroke-width="0.4"/>
<text transform="translate(187.97,-93.85) rotate(-26.5)" font-size="4.6" fill="#6a6a6a" text-anchor="start" dy="1.6">120</text>
<path d="M190.28 -85.01L191.64 -85.62" stroke="#666" stroke-width="0.4"/>
<text transform="translate(191.83,-85.70) rotate(-24.1)" font-size="4.6" fill="#6a6a6a" text-anchor="start" dy="1.6">140</text>
<path d="M193.75 -76.76L195.14 -77.31" stroke="#666" stroke-width="0.4"/>
<text transform="translate(195.33,-77.39) rotate(-21.6)" font-size="4.6" fill="#6a6a6a" text-anchor="start" dy="1.6">160</text>
<text transform="translate(191.95,-117.40) rotate(58.5)" font-size="6" font-weight="bold" font-family="Liberation Serif, serif" text-anchor="middle" dy="2">3</text>
<path d="M195.00 -72.67A208.1 208.1 0 0 1 197.10 -66.77L184.31 -62.44A194.6 194.6 0 0 0 182.35 -67.95Z" fill="#5a0a10" stroke="#222" stroke-width="0.25"/>
<path d="M197.10 -66.77A208.1 208.1 0 0 1 197.38 -65.93L184.58 -61.65A194.6 194.6 0 0 0 184.31 -62.44Z" fill="#e08080" stroke="#222" stroke-width="0.25"/>
<path d="M197.38 -65.93A208.1 208.1 0 0 1 199.01 -60.82L186.10 -56.88A194.6 194.6 0 0 0 184.58 -61.65Z" fill="#6a1018" stroke="#222" stroke-width="0.25"/>
<path d="M199.01 -60.82A208.1 208.1 0 0 1 200.51 -55.67L187.51 -52.06A194.6 194.6 0 0 0 186.10 -56.88Z" fill="#b84a54" stroke="#222" stroke-width="0.25"/>
<path d="M200.51 -55.67A208.1 208.1 0 0 1 201.21 -53.09L188.16 -49.64A194.6 194.6 0 0 0 187.51 -52.06Z" fill="#e07880" stroke="#222" stroke-width="0.25"/>
<path d="M201.21 -53.09A208.1 208.1 0 0 1 202.10 -49.62L188.99 -46.40A194.6 194.6 0 0 0 188.16 -49.64Z" fill="#c05a60" stroke="#222" stroke-width="0.25"/>
<path d="M202.10 -49.62A208.1 208.1 0 0 1 202.62 -47.45L189.47 -44.37A194.6 194.6 0 0 0 188.99 -46.40Z" fill="#e07078" stroke="#222" stroke-width="0.25"/>
<path d="M202.62 -47.45A208.1 208.1 0 0 1 203.31 -44.40L190.12 -41.52A194.6 194.6 0 0 0 189.47 -44.37Z" fill="#a84048" stroke="#222" stroke-width="0.25"/>
<path d="M203.31 -44.40A208.1 208.1 0 0 1 204.04 -40.90L190.80 -38.25A194.6 194.6 0 0 0 190.12 -41.52Z" fill="#8a2a30" stroke="#222" stroke-width="0.25"/>
<path d="M204.04 -40.90A208.1 208.1 0 0 1 204.79 -36.95L191.51 -34.56A194.6 194.6 0 0 0 190.80 -38.25Z" fill="#500810" stroke="#222" stroke-width="0.25"/>
<path d="M204.79 -36.95A208.1 208.1 0 0 1 205.18 -34.75L191.87 -32.50A194.6 194.6 0 0 0 191.51 -34.56Z" fill="#e07880" stroke="#222" stroke-width="0.25"/>
<path d="M205.18 -34.75A208.1 208.1 0 0 1 205.74 -31.23L192.40 -29.20A194.6 194.6 0 0 0 191.87 -32.50Z" fill="#b04850" stroke="#222" stroke-width="0.25"/>
<path d="M205.74 -31.23A208.1 208.1 0 0 1 206.13 -28.57L192.76 -26.72A194.6 194.6 0 0 0 192.40 -29.20Z" fill="#e07078" stroke="#222" stroke-width="0.25"/>
<path d="M206.13 -28.57A208.1 208.1 0 0 1 206.59 -25.03L193.19 -23.40A194.6 194.6 0 0 0 192.76 -26.72Z" fill="#c05860" stroke="#222" stroke-width="0.25"/>
<path d="M206.59 -25.03A208.1 208.1 0 0 1 206.89 -22.37L193.47 -20.91A194.6 194.6 0 0 0 193.19 -23.40Z" fill="#e07078" stroke="#222" stroke-width="0.25"/>
<path d="M206.89 -22.37A208.1 208.1 0 0 1 207.17 -19.70L193.73 -18.42A194.6 194.6 0 0 0 193.47 -20.91Z" fill="#b84a54" stroke="#222" stroke-width="0.25"/>
<path d="M207.17 -19.70A208.1 208.1 0 0 1 207.47 -16.14L194.01 -15.09A194.6 194.6 0 0 0 193.73 -18.42Z" fill="#e07880" stroke="#222" stroke-width="0.25"/>
<path d="M207.47 -16.14A208.1 208.1 0 0 1 207.72 -12.57L194.24 -11.76A194.6 194.6 0 0 0 194.01 -15.09Z" fill="#b04850" stroke="#222" stroke-width="0.25"/>
<path d="M207.72 -12.57A208.1 208.1 0 0 1 207.86 -9.90L194.38 -9.25A194.6 194.6 0 0 0 194.24 -11.76Z" fill="#5a0a10" stroke="#222" stroke-width="0.25"/>
<path d="M207.86 -9.90A208.1 208.1 0 0 1 208.06 -4.31L194.56 -4.03A194.6 194.6 0 0 0 194.38 -9.25Z" fill="#d86870" stroke="#222" stroke-width="0.25"/>
<path d="M195.00 -72.67A208.1 208.1 0 0 1 208.06 -4.31L194.56 -4.03A194.6 194.6 0 0 0 182.35 -67.95Z" fill="none" stroke="#222" stroke-width="0.5"/>
<path d="M195.28 -72.77L196.69 -73.29" stroke="#666" stroke-width="0.4"/>
<text transform="translate(196.87,-73.36) rotate(-20.4)" font-size="4.6" fill="#6a6a6a" text-anchor="start" dy="1.6">0</text>
<path d="M198.23 -64.32L199.65 -64.79" stroke="#666" stroke-width="0.4"/>
<text transform="translate(199.84,-64.85) rotate(-18.0)" font-size="4.6" fill="#6a6a6a" text-anchor="start" dy="1.6">20</text>
<path d="M200.80 -55.75L202.25 -56.16" stroke="#666" stroke-width="0.4"/>
<text transform="translate(202.44,-56.21) rotate(-15.5)" font-size="4.6" fill="#6a6a6a" text-anchor="start" dy="1.6">40</text>
<path d="M203.01 -47.08L204.47 -47.42" stroke="#666" stroke-width="0.4"/>
<text transform="translate(204.67,-47.47) rotate(-13.1)" font-size="4.6" fill="#6a6a6a" text-anchor="start" dy="1.6">60</text>
<path d="M204.85 -38.33L206.32 -38.60" stroke="#666" stroke-width="0.4"/>
<text transform="translate(206.52,-38.64) rotate(-10.6)" font-size="4.6" fill="#6a6a6a" text-anchor="start" dy="1.6">80</text>
<path d="M206.30 -29.50L207.79 -29.71" stroke="#666" stroke-width="0.4"/>
<text transform="translate(207.98,-29.74) rotate(-8.1)" font-size="4.6" fill="#6a6a6a" text-anchor="start" dy="1.6">100</text>
<path d="M207.38 -20.62L208.87 -20.77" stroke="#666" stroke-width="0.4"/>
<text transform="translate(209.07,-20.79) rotate(-5.7)" font-size="4.6" fill="#6a6a6a" text-anchor="start" dy="1.6">120</text>
<path d="M208.07 -11.70L209.57 -11.78" stroke="#666" stroke-width="0.4"/>
<text transform="translate(209.77,-11.79) rotate(-3.2)" font-size="4.6" fill="#6a6a6a" text-anchor="start" dy="1.6">140</text>
<text transform="translate(221.01,-42.21) rotate(79.2)" font-size="6" font-weight="bold" font-family="Liberation Serif, serif" text-anchor="middle" dy="2">4</text>
<path d="M208.10 -0.06A208.1 208.1 0 0 1 207.99 6.64L194.50 6.21A194.6 194.6 0 0 0 194.60 -0.06Z" fill="#7a1010" stroke="#222" stroke-width="0.25"/>
<path d="M207.99 6.64A208.1 208.1 0 0 1 207.78 11.55L194.30 10.80A194.6 194.6 0 0 0 194.50 6.21Z" fill="#c03a3a" stroke="#222" stroke-width="0.25"/>
<path d="M207.78 11.55A208.1 208.1 0 0 1 207.58 14.67L194.12 13.72A194.6 194.6 0 0 0 194.30 10.80Z" fill="#f06a6a" stroke="#222" stroke-width="0.25"/>
<path d="M207.58 14.67A208.1 208.1 0 0 1 207.05 20.90L193.62 19.54A194.6 194.6 0 0 0 194.12 13.72Z" fill="#e85a5a" stroke="#222" stroke-width="0.25"/>
<path d="M207.05 20.90A208.1 208.1 0 0 1 206.55 25.34L193.15 23.70A194.6 194.6 0 0 0 193.62 19.54Z" fill="#c84040" stroke="#222" stroke-width="0.25"/>
<path d="M206.55 25.34A208.1 208.1 0 0 1 205.90 30.21L192.54 28.25A194.6 194.6 0 0 0 193.15 23.70Z" fill="#8a1a1a" stroke="#222" stroke-width="0.25"/>
<path d="M205.90 30.21A208.1 208.1 0 0 1 205.27 34.18L191.96 31.96A194.6 194.6 0 0 0 192.54 28.25Z" fill="#c84848" stroke="#222" stroke-width="0.25"/>
<path d="M205.27 34.18A208.1 208.1 0 0 1 204.57 38.14L191.30 35.67A194.6 194.6 0 0 0 191.96 31.96Z" fill="#7a1010" stroke="#222" stroke-width="0.25"/>
<path d="M204.57 38.14A208.1 208.1 0 0 1 203.62 42.96L190.41 40.17A194.6 194.6 0 0 0 191.30 35.67Z" fill="#d05050" stroke="#222" stroke-width="0.25"/>
<path d="M203.62 42.96A208.1 208.1 0 0 1 203.05 45.58L189.87 42.62A194.6 194.6 0 0 0 190.41 40.17Z" fill="#f07070" stroke="#222" stroke-width="0.25"/>
<path d="M203.05 45.58A208.1 208.1 0 0 1 201.59 51.66L188.51 48.31A194.6 194.6 0 0 0 189.87 42.62Z" fill="#f06a6a" stroke="#222" stroke-width="0.25"/>
<path d="M201.59 51.66A208.1 208.1 0 0 1 200.90 54.25L187.87 50.73A194.6 194.6 0 0 0 188.51 48.31Z" fill="#a02a2a" stroke="#222" stroke-width="0.25"/>
<path d="M200.90 54.25A208.1 208.1 0 0 1 199.05 60.69L186.14 56.76A194.6 194.6 0 0 0 187.87 50.73Z" fill="#f06a6a" stroke="#222" stroke-width="0.25"/>
<path d="M199.05 60.69A208.1 208.1 0 0 1 197.16 66.58L184.37 62.26A194.6 194.6 0 0 0 186.14 56.76Z" fill="#d05050" stroke="#222" stroke-width="0.25"/>
<path d="M208.10 -0.06A208.1 208.1 0 0 1 197.16 66.58L184.37 62.26A194.6 194.6 0 0 0 194.60 -0.06Z" fill="none" stroke="#222" stroke-width="0.5"/>
<path d="M208.40 -0.06L209.90 -0.06" stroke="#666" stroke-width="0.4"/>
<text transform="translate(210.10,-0.06) rotate(-0.0)" font-size="4.6" fill="#6a6a6a" text-anchor="start" dy="1.6">0</text>
<path d="M208.21 8.88L209.71 8.95" stroke="#666" stroke-width="0.4"/>
<text transform="translate(209.91,8.96) rotate(2.4)" font-size="4.6" fill="#6a6a6a" text-anchor="start" dy="1.6">20</text>
<path d="M207.64 17.81L209.13 17.94" stroke="#666" stroke-width="0.4"/>
<text transform="translate(209.33,17.96) rotate(4.9)" font-size="4.6" fill="#6a6a6a" text-anchor="start" dy="1.6">40</text>
<path d="M206.68 26.71L208.17 26.90" stroke="#666" stroke-width="0.4"/>
<text transform="translate(208.37,26.93) rotate(7.4)" font-size="4.6" fill="#6a6a6a" text-anchor="start" dy="1.6">60</text>
<path d="M205.34 35.55L206.82 35.81" stroke="#666" stroke-width="0.4"/>
<text transform="translate(207.02,35.84) rotate(9.8)" font-size="4.6" fill="#6a6a6a" text-anchor="start" dy="1.6">80</text>
<path d="M203.63 44.34L205.10 44.65" stroke="#666" stroke-width="0.4"/>
<text transform="translate(205.29,44.70) rotate(12.3)" font-size="4.6" fill="#6a6a6a" text-anchor="start" dy="1.6">100</text>
<path d="M201.54 53.03L202.99 53.42" stroke="#666" stroke-width="0.4"/>
<text transform="translate(203.18,53.47) rotate(14.7)" font-size="4.6" fill="#6a6a6a" text-anchor="start" dy="1.6">120</text>
<path d="M199.08 61.64L200.51 62.08" stroke="#666" stroke-width="0.4"/>
<text transform="translate(200.70,62.14) rotate(17.2)" font-size="4.6" fill="#6a6a6a" text-anchor="start" dy="1.6">140</text>
<text transform="translate(222.03,36.44) rotate(-80.7)" font-size="6" font-weight="bold" font-family="Liberation Serif, serif" text-anchor="middle" dy="2">5</text>
<path d="M195.76 70.59A208.1 208.1 0 0 1 193.39 76.85L180.84 71.87A194.6 194.6 0 0 0 183.06 66.01Z" fill="#6a0a6a" stroke="#222" stroke-width="0.25"/>
<path d="M193.39 76.85A208.1 208.1 0 0 1 192.72 78.51L180.22 73.42A194.6 194.6 0 0 0 180.84 71.87Z" fill="#e070e0" stroke="#222" stroke-width="0.25"/>
<path d="M192.72 78.51A208.1 208.1 0 0 1 190.64 83.45L178.27 78.04A194.6 194.6 0 0 0 180.22 73.42Z" fill="#7a1480" stroke="#222" stroke-width="0.25"/>
<path d="M190.64 83.45A208.1 208.1 0 0 1 188.99 87.12L176.73 81.47A194.6 194.6 0 0 0 178.27 78.04Z" fill="#e060e0" stroke="#222" stroke-width="0.25"/>
<path d="M188.99 87.12A208.1 208.1 0 0 1 187.46 90.35L175.30 84.49A194.6 194.6 0 0 0 176.73 81.47Z" fill="#b030b8" stroke="#222" stroke-width="0.25"/>
<path d="M187.46 90.35A208.1 208.1 0 0 1 185.28 94.75L173.26 88.60A194.6 194.6 0 0 0 175.30 84.49Z" fill="#e070e8" stroke="#222" stroke-width="0.25"/>
<path d="M185.28 94.75A208.1 208.1 0 0 1 182.78 99.49L170.92 93.04A194.6 194.6 0 0 0 173.26 88.60Z" fill="#6a0c70" stroke="#222" stroke-width="0.25"/>
<path d="M182.78 99.49A208.1 208.1 0 0 1 180.60 103.39L168.88 96.68A194.6 194.6 0 0 0 170.92 93.04Z" fill="#c040c8" stroke="#222" stroke-width="0.25"/>
<path d="M180.60 103.39A208.1 208.1 0 0 1 179.02 106.09L167.41 99.21A194.6 194.6 0 0 0 168.88 96.68Z" fill="#d050d8" stroke="#222" stroke-width="0.25"/>
<path d="M179.02 106.09A208.1 208.1 0 0 1 176.94 109.53L165.46 102.43A194.6 194.6 0 0 0 167.41 99.21Z" fill="#e070e8" stroke="#222" stroke-width="0.25"/>
<path d="M176.94 109.53A208.1 208.1 0 0 1 173.82 114.43L162.54 107.00A194.6 194.6 0 0 0 165.46 102.43Z" fill="#5a0a62" stroke="#222" stroke-width="0.25"/>
<path d="M173.82 114.43A208.1 208.1 0 0 1 171.07 118.50L159.97 110.81A194.6 194.6 0 0 0 162.54 107.00Z" fill="#c040c8" stroke="#222" stroke-width="0.25"/>
<path d="M171.07 118.50A208.1 208.1 0 0 1 169.01 121.42L158.04 113.54A194.6 194.6 0 0 0 159.97 110.81Z" fill="#e070e8" stroke="#222" stroke-width="0.25"/>
<path d="M169.01 121.42A208.1 208.1 0 0 1 166.09 125.38L155.32 117.24A194.6 194.6 0 0 0 158.04 113.54Z" fill="#b838c0" stroke="#222" stroke-width="0.25"/>
<path d="M166.09 125.38A208.1 208.1 0 0 1 163.43 128.82L152.83 120.47A194.6 194.6 0 0 0 155.32 117.24Z" fill="#d058d8" stroke="#222" stroke-width="0.25"/>
<path d="M195.76 70.59A208.1 208.1 0 0 1 163.43 128.82L152.83 120.47A194.6 194.6 0 0 0 183.06 66.01Z" fill="none" stroke="#222" stroke-width="0.5"/>
<path d="M196.04 70.69L197.46 71.20" stroke="#666" stroke-width="0.4"/>
<text transform="translate(197.64,71.27) rotate(19.8)" font-size="4.6" fill="#6a6a6a" text-anchor="start" dy="1.6">0</text>
<path d="M192.83 79.04L194.22 79.61" stroke="#666" stroke-width="0.4"/>
<text transform="translate(194.40,79.68) rotate(22.3)" font-size="4.6" fill="#6a6a6a" text-anchor="start" dy="1.6">20</text>
<path d="M189.26 87.24L190.62 87.87" stroke="#666" stroke-width="0.4"/>
<text transform="translate(190.80,87.95) rotate(24.7)" font-size="4.6" fill="#6a6a6a" text-anchor="start" dy="1.6">40</text>
<path d="M185.34 95.29L186.67 95.97" stroke="#666" stroke-width="0.4"/>
<text transform="translate(186.85,96.06) rotate(27.2)" font-size="4.6" fill="#6a6a6a" text-anchor="start" dy="1.6">60</text>
<path d="M181.08 103.15L182.38 103.90" stroke="#666" stroke-width="0.4"/>
<text transform="translate(182.56,103.99) rotate(29.7)" font-size="4.6" fill="#6a6a6a" text-anchor="start" dy="1.6">80</text>
<path d="M176.49 110.83L177.76 111.63" stroke="#666" stroke-width="0.4"/>
<text transform="translate(177.93,111.73) rotate(32.1)" font-size="4.6" fill="#6a6a6a" text-anchor="start" dy="1.6">100</text>
<path d="M171.57 118.30L172.80 119.15" stroke="#666" stroke-width="0.4"/>
<text transform="translate(172.97,119.27) rotate(34.6)" font-size="4.6" fill="#6a6a6a" text-anchor="start" dy="1.6">120</text>
<path d="M166.33 125.56L167.53 126.46" stroke="#666" stroke-width="0.4"/>
<text transform="translate(167.69,126.58) rotate(37.0)" font-size="4.6" fill="#6a6a6a" text-anchor="start" dy="1.6">140</text>
<text transform="translate(196.72,109.21) rotate(-61.0)" font-size="6" font-weight="bold" font-family="Liberation Serif, serif" text-anchor="middle" dy="2">6</text>
<path d="M160.77 132.13A208.1 208.1 0 0 1 154.05 139.91L144.06 130.83A194.6 194.6 0 0 0 150.34 123.56Z" fill="#5a4044" stroke="#222" stroke-width="0.25"/>
<path d="M154.05 139.91A208.1 208.1 0 0 1 152.24 141.88L142.36 132.67A194.6 194.6 0 0 0 144.06 130.83Z" fill="#f0d0d4" stroke="#222" stroke-width="0.25"/>
<path d="M152.24 141.88A208.1 208.1 0 0 1 150.70 143.50L140.93 134.20A194.6 194.6 0 0 0 142.36 132.67Z" fill="#c0a0a4" stroke="#222" stroke-width="0.25"/>
<path d="M150.70 143.50A208.1 208.1 0 0 1 148.22 146.07L138.60 136.60A194.6 194.6 0 0 0 140.93 134.20Z" fill="#f0d4d8" stroke="#222" stroke-width="0.25"/>
<path d="M148.22 146.07A208.1 208.1 0 0 1 146.96 147.34L137.42 137.78A194.6 194.6 0 0 0 138.60 136.60Z" fill="#c0a0a4" stroke="#222" stroke-width="0.25"/>
<path d="M146.96 147.34A208.1 208.1 0 0 1 144.08 150.15L134.74 140.41A194.6 194.6 0 0 0 137.42 137.78Z" fill="#f8dce0" stroke="#222" stroke-width="0.25"/>
<path d="M144.08 150.15A208.1 208.1 0 0 1 139.51 154.41L130.46 144.40A194.6 194.6 0 0 0 134.74 140.41Z" fill="#5a4044" stroke="#222" stroke-width="0.25"/>
<path d="M139.51 154.41A208.1 208.1 0 0 1 136.50 157.08L127.64 146.89A194.6 194.6 0 0 0 130.46 144.40Z" fill="#f0d0d4" stroke="#222" stroke-width="0.25"/>
<path d="M136.50 157.08A208.1 208.1 0 0 1 134.46 158.82L125.74 148.52A194.6 194.6 0 0 0 127.64 146.89Z" fill="#b89094" stroke="#222" stroke-width="0.25"/>
<path d="M134.46 158.82A208.1 208.1 0 0 1 132.41 160.54L123.82 150.13A194.6 194.6 0 0 0 125.74 148.52Z" fill="#f0d0d4" stroke="#222" stroke-width="0.25"/>
<path d="M132.41 160.54A208.1 208.1 0 0 1 127.17 164.72L118.92 154.04A194.6 194.6 0 0 0 123.82 150.13Z" fill="#5a4044" stroke="#222" stroke-width="0.25"/>
<path d="M127.17 164.72A208.1 208.1 0 0 1 125.04 166.35L116.93 155.56A194.6 194.6 0 0 0 118.92 154.04Z" fill="#f0d0d4" stroke="#222" stroke-width="0.25"/>
<path d="M125.04 166.35A208.1 208.1 0 0 1 123.60 167.41L115.59 156.55A194.6 194.6 0 0 0 116.93 155.56Z" fill="#c0a0a4" stroke="#222" stroke-width="0.25"/>
<path d="M123.60 167.41A208.1 208.1 0 0 1 121.07 169.25L113.22 158.27A194.6 194.6 0 0 0 115.59 156.55Z" fill="#f0d4d8" stroke="#222" stroke-width="0.25"/>
<path d="M121.07 169.25A208.1 208.1 0 0 1 119.62 170.29L111.86 159.24A194.6 194.6 0 0 0 113.22 158.27Z" fill="#c0a0a4" stroke="#222" stroke-width="0.25"/>
<path d="M119.62 170.29A208.1 208.1 0 0 1 112.41 175.13L105.12 163.77A194.6 194.6 0 0 0 111.86 159.24Z" fill="#f8dce0" stroke="#222" stroke-width="0.25"/>
<path d="M160.77 132.13A208.1 208.1 0 0 1 112.41 175.13L105.12 163.77A194.6 194.6 0 0 0 150.34 123.56Z" fill="none" stroke="#222" stroke-width="0.5"/>
<path d="M161.00 132.32L162.16 133.28" stroke="#666" stroke-width="0.4"/>
<text transform="translate(162.31,133.40) rotate(39.4)" font-size="4.6" fill="#6a6a6a" text-anchor="start" dy="1.6">0</text>
<path d="M155.17 139.11L156.29 140.11" stroke="#666" stroke-width="0.4"/>
<text transform="translate(156.44,140.25) rotate(41.9)" font-size="4.6" fill="#6a6a6a" text-anchor="start" dy="1.6">20</text>
<path d="M149.06 145.64L150.13 146.69" stroke="#666" stroke-width="0.4"/>
<text transform="translate(150.27,146.83) rotate(44.3)" font-size="4.6" fill="#6a6a6a" text-anchor="start" dy="1.6">40</text>
<path d="M142.67 151.91L143.70 153.00" stroke="#666" stroke-width="0.4"/>
<text transform="translate(143.83,153.15) rotate(46.8)" font-size="4.6" fill="#6a6a6a" text-anchor="start" dy="1.6">60</text>
<path d="M136.02 157.89L137.00 159.03" stroke="#666" stroke-width="0.4"/>
<text transform="translate(137.13,159.18) rotate(49.3)" font-size="4.6" fill="#6a6a6a" text-anchor="start" dy="1.6">80</text>
<path d="M129.12 163.58L130.05 164.76" stroke="#666" stroke-width="0.4"/>
<text transform="translate(130.17,164.92) rotate(51.7)" font-size="4.6" fill="#6a6a6a" text-anchor="start" dy="1.6">100</text>
<path d="M121.98 168.97L122.85 170.19" stroke="#666" stroke-width="0.4"/>
<text transform="translate(122.97,170.35) rotate(54.2)" font-size="4.6" fill="#6a6a6a" text-anchor="start" dy="1.6">120</text>
<path d="M114.61 174.05L115.44 175.31" stroke="#666" stroke-width="0.4"/>
<text transform="translate(115.55,175.47) rotate(56.6)" font-size="4.6" fill="#6a6a6a" text-anchor="start" dy="1.6">140</text>
<text transform="translate(149.50,168.15) rotate(-41.6)" font-size="6" font-weight="bold" font-family="Liberation Serif, serif" text-anchor="middle" dy="2">7</text>
<path d="M108.81 177.39A208.1 208.1 0 0 1 103.43 180.58L96.72 168.86A194.6 194.6 0 0 0 101.75 165.88Z" fill="#6a3a0a" stroke="#222" stroke-width="0.25"/>
<path d="M103.43 180.58A208.1 208.1 0 0 1 98.74 183.18L92.34 171.30A194.6 194.6 0 0 0 96.72 168.86Z" fill="#a86820" stroke="#222" stroke-width="0.25"/>
<path d="M98.74 183.18A208.1 208.1 0 0 1 95.58 184.85L89.38 172.86A194.6 194.6 0 0 0 92.34 171.30Z" fill="#f0b060" stroke="#222" stroke-width="0.25"/>
<path d="M95.58 184.85A208.1 208.1 0 0 1 92.39 186.46L86.40 174.37A194.6 194.6 0 0 0 89.38 172.86Z" fill="#c08030" stroke="#222" stroke-width="0.25"/>
<path d="M92.39 186.46A208.1 208.1 0 0 1 89.99 187.64L84.15 175.47A194.6 194.6 0 0 0 86.40 174.37Z" fill="#f8c070" stroke="#222" stroke-width="0.25"/>
<path d="M89.99 187.64A208.1 208.1 0 0 1 87.56 188.78L81.88 176.54A194.6 194.6 0 0 0 84.15 175.47Z" fill="#c08030" stroke="#222" stroke-width="0.25"/>
<path d="M87.56 188.78A208.1 208.1 0 0 1 83.90 190.44L78.45 178.08A194.6 194.6 0 0 0 81.88 176.54Z" fill="#6a3a0a" stroke="#222" stroke-width="0.25"/>
<path d="M83.90 190.44A208.1 208.1 0 0 1 79.79 192.20L74.61 179.73A194.6 194.6 0 0 0 78.45 178.08Z" fill="#8a5010" stroke="#222" stroke-width="0.25"/>
<path d="M79.79 192.20A208.1 208.1 0 0 1 76.48 193.54L71.52 180.98A194.6 194.6 0 0 0 74.61 179.73Z" fill="#f0b868" stroke="#222" stroke-width="0.25"/>
<path d="M76.48 193.54A208.1 208.1 0 0 1 74.81 194.19L69.96 181.59A194.6 194.6 0 0 0 71.52 180.98Z" fill="#c08030" stroke="#222" stroke-width="0.25"/>
<path d="M74.81 194.19A208.1 208.1 0 0 1 72.31 195.13L67.61 182.48A194.6 194.6 0 0 0 69.96 181.59Z" fill="#f0b868" stroke="#222" stroke-width="0.25"/>
<path d="M72.31 195.13A208.1 208.1 0 0 1 70.63 195.75L66.05 183.05A194.6 194.6 0 0 0 67.61 182.48Z" fill="#7a4410" stroke="#222" stroke-width="0.25"/>
<path d="M70.63 195.75A208.1 208.1 0 0 1 66.41 197.22L62.10 184.43A194.6 194.6 0 0 0 66.05 183.05Z" fill="#5a3008" stroke="#222" stroke-width="0.25"/>
<path d="M66.41 197.22A208.1 208.1 0 0 1 63.86 198.06L59.72 185.21A194.6 194.6 0 0 0 62.10 184.43Z" fill="#f0b868" stroke="#222" stroke-width="0.25"/>
<path d="M63.86 198.06A208.1 208.1 0 0 1 62.16 198.60L58.13 185.72A194.6 194.6 0 0 0 59.72 185.21Z" fill="#c08030" stroke="#222" stroke-width="0.25"/>
<path d="M62.16 198.60A208.1 208.1 0 0 1 55.99 200.43L52.36 187.42A194.6 194.6 0 0 0 58.13 185.72Z" fill="#f8c070" stroke="#222" stroke-width="0.25"/>
<path d="M108.81 177.39A208.1 208.1 0 0 1 55.99 200.43L52.36 187.42A194.6 194.6 0 0 0 101.75 165.88Z" fill="none" stroke="#222" stroke-width="0.5"/>
<path d="M108.97 177.64L109.75 178.92" stroke="#666" stroke-width="0.4"/>
<text transform="translate(109.85,179.09) rotate(58.5)" font-size="4.6" fill="#6a6a6a" text-anchor="start" dy="1.6">0</text>
<path d="M101.24 182.16L101.97 183.47" stroke="#666" stroke-width="0.4"/>
<text transform="translate(102.07,183.64) rotate(60.9)" font-size="4.6" fill="#6a6a6a" text-anchor="start" dy="1.6">20</text>
<path d="M93.33 186.33L94.00 187.68" stroke="#666" stroke-width="0.4"/>
<text transform="translate(94.09,187.85) rotate(63.4)" font-size="4.6" fill="#6a6a6a" text-anchor="start" dy="1.6">40</text>
<path d="M85.24 190.17L85.86 191.54" stroke="#666" stroke-width="0.4"/>
<text transform="translate(85.94,191.72) rotate(65.9)" font-size="4.6" fill="#6a6a6a" text-anchor="start" dy="1.6">60</text>
<path d="M77.00 193.65L77.56 195.05" stroke="#666" stroke-width="0.4"/>
<text transform="translate(77.63,195.23) rotate(68.3)" font-size="4.6" fill="#6a6a6a" text-anchor="start" dy="1.6">80</text>
<path d="M68.62 196.78L69.11 198.19" stroke="#666" stroke-width="0.4"/>
<text transform="translate(69.18,198.38) rotate(70.8)" font-size="4.6" fill="#6a6a6a" text-anchor="start" dy="1.6">100</text>
<path d="M60.11 199.54L60.54 200.98" stroke="#666" stroke-width="0.4"/>
<text transform="translate(60.60,201.17) rotate(73.2)" font-size="4.6" fill="#6a6a6a" text-anchor="start" dy="1.6">120</text>
<text transform="translate(89.96,206.23) rotate(-23.6)" font-size="6" font-weight="bold" font-family="Liberation Serif, serif" text-anchor="middle" dy="2">8</text>
<path d="M51.89 201.53A208.1 208.1 0 0 1 44.50 203.29L41.61 190.10A194.6 194.6 0 0 0 48.52 188.45Z" fill="#4a3a08" stroke="#222" stroke-width="0.25"/>
<path d="M44.50 203.29A208.1 208.1 0 0 1 42.32 203.75L39.57 190.53A194.6 194.6 0 0 0 41.61 190.10Z" fill="#b09030" stroke="#222" stroke-width="0.25"/>
<path d="M42.32 203.75A208.1 208.1 0 0 1 35.73 205.01L33.42 191.71A194.6 194.6 0 0 0 39.57 190.53Z" fill="#f0d870" stroke="#222" stroke-width="0.25"/>
<path d="M35.73 205.01A208.1 208.1 0 0 1 32.65 205.52L30.53 192.19A194.6 194.6 0 0 0 33.42 191.71Z" fill="#a08428" stroke="#222" stroke-width="0.25"/>
<path d="M32.65 205.52A208.1 208.1 0 0 1 30.00 205.93L28.05 192.57A194.6 194.6 0 0 0 30.53 192.19Z" fill="#5a4a10" stroke="#222" stroke-width="0.25"/>
<path d="M30.00 205.93A208.1 208.1 0 0 1 26.90 206.35L25.16 192.97A194.6 194.6 0 0 0 28.05 192.57Z" fill="#e8c860" stroke="#222" stroke-width="0.25"/>
<path d="M26.90 206.35A208.1 208.1 0 0 1 23.80 206.73L22.25 193.32A194.6 194.6 0 0 0 25.16 192.97Z" fill="#b09838" stroke="#222" stroke-width="0.25"/>
<path d="M23.80 206.73A208.1 208.1 0 0 1 21.13 207.02L19.76 193.59A194.6 194.6 0 0 0 22.25 193.32Z" fill="#f0d870" stroke="#222" stroke-width="0.25"/>
<path d="M21.13 207.02A208.1 208.1 0 0 1 18.02 207.32L16.85 193.87A194.6 194.6 0 0 0 19.76 193.59Z" fill="#c0a040" stroke="#222" stroke-width="0.25"/>
<path d="M18.02 207.32A208.1 208.1 0 0 1 15.79 207.50L14.77 194.04A194.6 194.6 0 0 0 16.85 193.87Z" fill="#f0d870" stroke="#222" stroke-width="0.25"/>
<path d="M15.79 207.50A208.1 208.1 0 0 1 12.67 207.71L11.85 194.24A194.6 194.6 0 0 0 14.77 194.04Z" fill="#7a6418" stroke="#222" stroke-width="0.25"/>
<path d="M12.67 207.71A208.1 208.1 0 0 1 7.32 207.97L6.84 194.48A194.6 194.6 0 0 0 11.85 194.24Z" fill="#4a3a08" stroke="#222" stroke-width="0.25"/>
<path d="M7.32 207.97A208.1 208.1 0 0 1 4.64 208.05L4.34 194.55A194.6 194.6 0 0 0 6.84 194.48Z" fill="#b09838" stroke="#222" stroke-width="0.25"/>
<path d="M4.64 208.05A208.1 208.1 0 0 1 0.62 208.10L0.58 194.60A194.6 194.6 0 0 0 4.34 194.55Z" fill="#f0d070" stroke="#222" stroke-width="0.25"/>
<path d="M0.62 208.10A208.1 208.1 0 0 1 -3.22 208.08L-3.01 194.58A194.6 194.6 0 0 0 0.58 194.60Z" fill="#d0b050" stroke="#222" stroke-width="0.25"/>
<path d="M51.89 201.53A208.1 208.1 0 0 1 -3.22 208.08L-3.01 194.58A194.6 194.6 0 0 0 48.52 188.45Z" fill="none" stroke="#222" stroke-width="0.5"/>
<path d="M51.96 201.82L52.34 203.27" stroke="#666" stroke-width="0.4"/>
<text transform="translate(52.39,203.46) rotate(75.6)" font-size="4.6" fill="#6a6a6a" text-anchor="start" dy="1.6">0</text>
<path d="M43.25 203.86L43.56 205.33" stroke="#666" stroke-width="0.4"/>
<text transform="translate(43.61,205.53) rotate(78.0)" font-size="4.6" fill="#6a6a6a" text-anchor="start" dy="1.6">20</text>
<path d="M34.46 205.53L34.71 207.01" stroke="#666" stroke-width="0.4"/>
<text transform="translate(34.74,207.21) rotate(80.5)" font-size="4.6" fill="#6a6a6a" text-anchor="start" dy="1.6">40</text>
<path d="M25.61 206.82L25.79 208.31" stroke="#666" stroke-width="0.4"/>
<text transform="translate(25.82,208.51) rotate(82.9)" font-size="4.6" fill="#6a6a6a" text-anchor="start" dy="1.6">60</text>
<path d="M16.71 207.73L16.83 209.22" stroke="#666" stroke-width="0.4"/>
<text transform="translate(16.84,209.42) rotate(85.4)" font-size="4.6" fill="#6a6a6a" text-anchor="start" dy="1.6">80</text>
<path d="M7.78 208.25L7.83 209.75" stroke="#666" stroke-width="0.4"/>
<text transform="translate(7.84,209.95) rotate(87.9)" font-size="4.6" fill="#6a6a6a" text-anchor="start" dy="1.6">100</text>
<path d="M-1.17 208.40L-1.18 209.90" stroke="#666" stroke-width="0.4"/>
<text transform="translate(-1.18,210.10) rotate(-89.7)" font-size="4.6" fill="#6a6a6a" text-anchor="end" dy="1.6">120</text>
<text transform="translate(26.55,223.43) rotate(-6.8)" font-size="6" font-weight="bold" font-family="Liberation Serif, serif" text-anchor="middle" dy="2">9</text>
<path d="M-7.47 207.97A208.1 208.1 0 0 1 -13.72 207.65L-12.83 194.18A194.6 194.6 0 0 0 -6.99 194.47Z" fill="#5a5a10" stroke="#222" stroke-width="0.25"/>
<path d="M-13.72 207.65A208.1 208.1 0 0 1 -16.84 207.42L-15.74 193.96A194.6 194.6 0 0 0 -12.83 194.18Z" fill="#f0f060" stroke="#222" stroke-width="0.25"/>
<path d="M-16.84 207.42A208.1 208.1 0 0 1 -18.62 207.27L-17.41 193.82A194.6 194.6 0 0 0 -15.74 193.96Z" fill="#b0b040" stroke="#222" stroke-width="0.25"/>
<path d="M-18.62 207.27A208.1 208.1 0 0 1 -22.17 206.92L-20.73 193.49A194.6 194.6 0 0 0 -17.41 193.82Z" fill="#f0f060" stroke="#222" stroke-width="0.25"/>
<path d="M-22.17 206.92A208.1 208.1 0 0 1 -25.72 206.50L-24.05 193.11A194.6 194.6 0 0 0 -20.73 193.49Z" fill="#5a5a10" stroke="#222" stroke-width="0.25"/>
<path d="M-25.72 206.50A208.1 208.1 0 0 1 -29.26 206.03L-27.37 192.67A194.6 194.6 0 0 0 -24.05 193.11Z" fill="#a0a030" stroke="#222" stroke-width="0.25"/>
<path d="M-29.26 206.03A208.1 208.1 0 0 1 -32.36 205.57L-30.26 192.23A194.6 194.6 0 0 0 -27.37 192.67Z" fill="#f0f070" stroke="#222" stroke-width="0.25"/>
<path d="M-32.36 205.57A208.1 208.1 0 0 1 -35.88 204.98L-33.56 191.69A194.6 194.6 0 0 0 -30.26 192.23Z" fill="#6a6a14" stroke="#222" stroke-width="0.25"/>
<path d="M-35.88 204.98A208.1 208.1 0 0 1 -41.15 203.99L-38.48 190.76A194.6 194.6 0 0 0 -33.56 191.69Z" fill="#5a5a10" stroke="#222" stroke-width="0.25"/>
<path d="M-41.15 203.99A208.1 208.1 0 0 1 -46.39 202.86L-43.38 189.70A194.6 194.6 0 0 0 -38.48 190.76Z" fill="#f0f060" stroke="#222" stroke-width="0.25"/>
<path d="M-46.39 202.86A208.1 208.1 0 0 1 -49.00 202.25L-45.82 189.13A194.6 194.6 0 0 0 -43.38 189.70Z" fill="#b0b040" stroke="#222" stroke-width="0.25"/>
<path d="M-49.00 202.25A208.1 208.1 0 0 1 -51.60 201.60L-48.25 188.52A194.6 194.6 0 0 0 -45.82 189.13Z" fill="#f0f060" stroke="#222" stroke-width="0.25"/>
<path d="M-51.60 201.60A208.1 208.1 0 0 1 -54.63 200.80L-51.08 187.78A194.6 194.6 0 0 0 -48.25 188.52Z" fill="#5a5a10" stroke="#222" stroke-width="0.25"/>
<path d="M-54.63 200.80A208.1 208.1 0 0 1 -58.92 199.58L-55.10 186.64A194.6 194.6 0 0 0 -51.08 187.78Z" fill="#7a7a20" stroke="#222" stroke-width="0.25"/>
<path d="M-58.92 199.58A208.1 208.1 0 0 1 -62.34 198.54L-58.30 185.66A194.6 194.6 0 0 0 -55.10 186.64Z" fill="#f0f070" stroke="#222" stroke-width="0.25"/>
<path d="M-62.34 198.54A208.1 208.1 0 0 1 -64.76 197.77L-60.56 184.94A194.6 194.6 0 0 0 -58.30 185.66Z" fill="#d8d860" stroke="#222" stroke-width="0.25"/>
<path d="M-7.47 207.97A208.1 208.1 0 0 1 -64.76 197.77L-60.56 184.94A194.6 194.6 0 0 0 -6.99 194.47Z" fill="none" stroke="#222" stroke-width="0.5"/>
<path d="M-7.48 208.27L-7.53 209.76" stroke="#666" stroke-width="0.4"/>
<text transform="translate(-7.54,209.96) rotate(-87.9)" font-size="4.6" fill="#6a6a6a" text-anchor="end" dy="1.6">0</text>
<path d="M-16.41 207.75L-16.53 209.25" stroke="#666" stroke-width="0.4"/>
<text transform="translate(-16.55,209.45) rotate(-85.5)" font-size="4.6" fill="#6a6a6a" text-anchor="end" dy="1.6">20</text>
<path d="M-25.32 206.86L-25.50 208.35" stroke="#666" stroke-width="0.4"/>
<text transform="translate(-25.52,208.54) rotate(-83.0)" font-size="4.6" fill="#6a6a6a" text-anchor="end" dy="1.6">40</text>
<path d="M-34.17 205.58L-34.42 207.06" stroke="#666" stroke-width="0.4"/>
<text transform="translate(-34.45,207.26) rotate(-80.6)" font-size="4.6" fill="#6a6a6a" text-anchor="end" dy="1.6">60</text>
<path d="M-42.96 203.92L-43.27 205.39" stroke="#666" stroke-width="0.4"/>
<text transform="translate(-43.31,205.59) rotate(-78.1)" font-size="4.6" fill="#6a6a6a" text-anchor="end" dy="1.6">80</text>
<path d="M-51.68 201.89L-52.05 203.34" stroke="#666" stroke-width="0.4"/>
<text transform="translate(-52.10,203.54) rotate(-75.6)" font-size="4.6" fill="#6a6a6a" text-anchor="end" dy="1.6">100</text>
<path d="M-60.29 199.49L-60.73 200.92" stroke="#666" stroke-width="0.4"/>
<text transform="translate(-60.79,201.11) rotate(-73.2)" font-size="4.6" fill="#6a6a6a" text-anchor="end" dy="1.6">120</text>
<text transform="translate(-39.44,221.52) rotate(10.1)" font-size="6" font-weight="bold" font-family="Liberation Serif, serif" text-anchor="middle" dy="2">10</text>
<path d="M-68.79 196.40A208.1 208.1 0 0 1 -74.24 194.41L-69.42 181.79A194.6 194.6 0 0 0 -64.32 183.66Z" fill="#4a5a10" stroke="#222" stroke-width="0.25"/>
<path d="M-74.24 194.41A208.1 208.1 0 0 1 -76.32 193.60L-71.37 181.04A194.6 194.6 0 0 0 -69.42 181.79Z" fill="#d8f070" stroke="#222" stroke-width="0.25"/>
<path d="M-76.32 193.60A208.1 208.1 0 0 1 -79.22 192.43L-74.08 179.95A194.6 194.6 0 0 0 -71.37 181.04Z" fill="#4a5a10" stroke="#222" stroke-width="0.25"/>
<path d="M-79.22 192.43A208.1 208.1 0 0 1 -81.28 191.57L-76.01 179.14A194.6 194.6 0 0 0 -74.08 179.95Z" fill="#d8f070" stroke="#222" stroke-width="0.25"/>
<path d="M-81.28 191.57A208.1 208.1 0 0 1 -83.75 190.51L-78.31 178.15A194.6 194.6 0 0 0 -76.01 179.14Z" fill="#4a6010" stroke="#222" stroke-width="0.25"/>
<path d="M-83.75 190.51A208.1 208.1 0 0 1 -85.79 189.60L-80.22 177.30A194.6 194.6 0 0 0 -78.31 178.15Z" fill="#d8f070" stroke="#222" stroke-width="0.25"/>
<path d="M-85.79 189.60A208.1 208.1 0 0 1 -87.82 188.66L-82.12 176.42A194.6 194.6 0 0 0 -80.22 177.30Z" fill="#4a6010" stroke="#222" stroke-width="0.25"/>
<path d="M-87.82 188.66A208.1 208.1 0 0 1 -91.85 186.74L-85.89 174.62A194.6 194.6 0 0 0 -82.12 176.42Z" fill="#e0f080" stroke="#222" stroke-width="0.25"/>
<path d="M-91.85 186.74A208.1 208.1 0 0 1 -94.64 185.33L-88.50 173.31A194.6 194.6 0 0 0 -85.89 174.62Z" fill="#90b030" stroke="#222" stroke-width="0.25"/>
<path d="M-94.64 185.33A208.1 208.1 0 0 1 -97.02 184.10L-90.73 172.16A194.6 194.6 0 0 0 -88.50 173.31Z" fill="#e0f080" stroke="#222" stroke-width="0.25"/>
<path d="M-97.02 184.10A208.1 208.1 0 0 1 -99.78 182.62L-93.30 170.77A194.6 194.6 0 0 0 -90.73 172.16Z" fill="#b0d040" stroke="#222" stroke-width="0.25"/>
<path d="M-99.78 182.62A208.1 208.1 0 0 1 -101.73 181.54L-95.13 169.76A194.6 194.6 0 0 0 -93.30 170.77Z" fill="#e0f080" stroke="#222" stroke-width="0.25"/>
<path d="M-101.73 181.54A208.1 208.1 0 0 1 -106.76 178.63L-99.83 167.04A194.6 194.6 0 0 0 -95.13 169.76Z" fill="#4a6010" stroke="#222" stroke-width="0.25"/>
<path d="M-106.76 178.63A208.1 208.1 0 0 1 -109.05 177.24L-101.97 165.74A194.6 194.6 0 0 0 -99.83 167.04Z" fill="#d8f070" stroke="#222" stroke-width="0.25"/>
<path d="M-109.05 177.24A208.1 208.1 0 0 1 -111.70 175.58L-104.45 164.19A194.6 194.6 0 0 0 -101.97 165.74Z" fill="#a0c040" stroke="#222" stroke-width="0.25"/>
<path d="M-111.70 175.58A208.1 208.1 0 0 1 -114.70 173.64L-107.26 162.37A194.6 194.6 0 0 0 -104.45 164.19Z" fill="#e0f890" stroke="#222" stroke-width="0.25"/>
<path d="M-114.70 173.64A208.1 208.1 0 0 1 -117.32 171.87L-109.71 160.72A194.6 194.6 0 0 0 -107.26 162.37Z" fill="#c8e060" stroke="#222" stroke-width="0.25"/>
<path d="M-68.79 196.40A208.1 208.1 0 0 1 -117.32 171.87L-109.71 160.72A194.6 194.6 0 0 0 -64.32 183.66Z" fill="none" stroke="#222" stroke-width="0.5"/>
<path d="M-68.89 196.69L-69.38 198.10" stroke="#666" stroke-width="0.4"/>
<text transform="translate(-69.45,198.29) rotate(-70.7)" font-size="4.6" fill="#6a6a6a" text-anchor="end" dy="1.6">0</text>
<path d="M-77.27 193.55L-77.82 194.94" stroke="#666" stroke-width="0.4"/>
<text transform="translate(-77.90,195.13) rotate(-68.2)" font-size="4.6" fill="#6a6a6a" text-anchor="end" dy="1.6">20</text>
<path d="M-85.50 190.05L-86.12 191.42" stroke="#666" stroke-width="0.4"/>
<text transform="translate(-86.20,191.60) rotate(-65.8)" font-size="4.6" fill="#6a6a6a" text-anchor="end" dy="1.6">40</text>
<path d="M-93.58 186.21L-94.25 187.55" stroke="#666" stroke-width="0.4"/>
<text transform="translate(-94.34,187.73) rotate(-63.3)" font-size="4.6" fill="#6a6a6a" text-anchor="end" dy="1.6">60</text>
<path d="M-101.49 182.02L-102.22 183.33" stroke="#666" stroke-width="0.4"/>
<text transform="translate(-102.31,183.50) rotate(-60.9)" font-size="4.6" fill="#6a6a6a" text-anchor="end" dy="1.6">80</text>
<path d="M-109.21 177.50L-109.99 178.77" stroke="#666" stroke-width="0.4"/>
<text transform="translate(-110.10,178.94) rotate(-58.4)" font-size="4.6" fill="#6a6a6a" text-anchor="end" dy="1.6">100</text>
<path d="M-116.72 172.65L-117.56 173.89" stroke="#666" stroke-width="0.4"/>
<text transform="translate(-117.68,174.05) rotate(-55.9)" font-size="4.6" fill="#6a6a6a" text-anchor="end" dy="1.6">120</text>
<text transform="translate(-101.48,200.81) rotate(26.8)" font-size="6" font-weight="bold" font-family="Liberation Serif, serif" text-anchor="middle" dy="2">11</text>
<path d="M-120.81 169.44A208.1 208.1 0 0 1 -126.56 165.19L-118.35 154.48A194.6 194.6 0 0 0 -112.97 158.45Z" fill="#0a4a0a" stroke="#222" stroke-width="0.25"/>
<path d="M-126.56 165.19A208.1 208.1 0 0 1 -128.32 163.83L-120.00 153.20A194.6 194.6 0 0 0 -118.35 154.48Z" fill="#30a030" stroke="#222" stroke-width="0.25"/>
<path d="M-128.32 163.83A208.1 208.1 0 0 1 -130.77 161.88L-122.29 151.38A194.6 194.6 0 0 0 -120.00 153.20Z" fill="#60e060" stroke="#222" stroke-width="0.25"/>
<path d="M-130.77 161.88A208.1 208.1 0 0 1 -132.50 160.47L-123.90 150.06A194.6 194.6 0 0 0 -122.29 151.38Z" fill="#30a030" stroke="#222" stroke-width="0.25"/>
<path d="M-132.50 160.47A208.1 208.1 0 0 1 -134.21 159.04L-125.51 148.72A194.6 194.6 0 0 0 -123.90 150.06Z" fill="#70f070" stroke="#222" stroke-width="0.25"/>
<path d="M-134.21 159.04A208.1 208.1 0 0 1 -136.59 157.00L-127.73 146.82A194.6 194.6 0 0 0 -125.51 148.72Z" fill="#40c040" stroke="#222" stroke-width="0.25"/>
<path d="M-136.59 157.00A208.1 208.1 0 0 1 -140.26 153.73L-131.16 143.76A194.6 194.6 0 0 0 -127.73 146.82Z" fill="#0a5a0a" stroke="#222" stroke-width="0.25"/>
<path d="M-140.26 153.73A208.1 208.1 0 0 1 -141.90 152.22L-132.69 142.34A194.6 194.6 0 0 0 -131.16 143.76Z" fill="#60e060" stroke="#222" stroke-width="0.25"/>
<path d="M-141.90 152.22A208.1 208.1 0 0 1 -144.17 150.07L-134.82 140.33A194.6 194.6 0 0 0 -132.69 142.34Z" fill="#20a020" stroke="#222" stroke-width="0.25"/>
<path d="M-144.17 150.07A208.1 208.1 0 0 1 -146.41 147.88L-136.91 138.29A194.6 194.6 0 0 0 -134.82 140.33Z" fill="#0a5a0a" stroke="#222" stroke-width="0.25"/>
<path d="M-146.41 147.88A208.1 208.1 0 0 1 -148.93 145.35L-139.27 135.92A194.6 194.6 0 0 0 -136.91 138.29Z" fill="#60e060" stroke="#222" stroke-width="0.25"/>
<path d="M-148.93 145.35A208.1 208.1 0 0 1 -151.10 143.09L-141.29 133.81A194.6 194.6 0 0 0 -139.27 135.92Z" fill="#30a030" stroke="#222" stroke-width="0.25"/>
<path d="M-151.10 143.09A208.1 208.1 0 0 1 -153.83 140.15L-143.85 131.06A194.6 194.6 0 0 0 -141.29 133.81Z" fill="#0a5a0a" stroke="#222" stroke-width="0.25"/>
<path d="M-153.83 140.15A208.1 208.1 0 0 1 -156.51 137.15L-146.36 128.25A194.6 194.6 0 0 0 -143.85 131.06Z" fill="#70f070" stroke="#222" stroke-width="0.25"/>
<path d="M-156.51 137.15A208.1 208.1 0 0 1 -158.55 134.78L-148.27 126.04A194.6 194.6 0 0 0 -146.36 128.25Z" fill="#30b030" stroke="#222" stroke-width="0.25"/>
<path d="M-158.55 134.78A208.1 208.1 0 0 1 -160.03 133.03L-149.65 124.40A194.6 194.6 0 0 0 -148.27 126.04Z" fill="#50d050" stroke="#222" stroke-width="0.25"/>
<path d="M-120.81 169.44A208.1 208.1 0 0 1 -160.03 133.03L-149.65 124.40A194.6 194.6 0 0 0 -112.97 158.45Z" fill="none" stroke="#222" stroke-width="0.5"/>
<path d="M-120.98 169.69L-121.85 170.91" stroke="#666" stroke-width="0.4"/>
<text transform="translate(-121.97,171.07) rotate(-54.5)" font-size="4.6" fill="#6a6a6a" text-anchor="end" dy="1.6">0</text>
<path d="M-128.15 164.34L-129.08 165.52" stroke="#666" stroke-width="0.4"/>
<text transform="translate(-129.20,165.68) rotate(-52.1)" font-size="4.6" fill="#6a6a6a" text-anchor="end" dy="1.6">20</text>
<path d="M-135.09 158.69L-136.06 159.83" stroke="#666" stroke-width="0.4"/>
<text transform="translate(-136.19,159.98) rotate(-49.6)" font-size="4.6" fill="#6a6a6a" text-anchor="end" dy="1.6">40</text>
<path d="M-141.78 152.74L-142.80 153.84" stroke="#666" stroke-width="0.4"/>
<text transform="translate(-142.93,153.99) rotate(-47.1)" font-size="4.6" fill="#6a6a6a" text-anchor="end" dy="1.6">60</text>
<path d="M-148.20 146.52L-149.27 147.57" stroke="#666" stroke-width="0.4"/>
<text transform="translate(-149.41,147.71) rotate(-44.7)" font-size="4.6" fill="#6a6a6a" text-anchor="end" dy="1.6">80</text>
<path d="M-154.35 140.02L-155.47 141.03" stroke="#666" stroke-width="0.4"/>
<text transform="translate(-155.61,141.16) rotate(-42.2)" font-size="4.6" fill="#6a6a6a" text-anchor="end" dy="1.6">100</text>
<path d="M-160.22 133.26L-161.38 134.22" stroke="#666" stroke-width="0.4"/>
<text transform="translate(-161.53,134.35) rotate(-39.8)" font-size="4.6" fill="#6a6a6a" text-anchor="end" dy="1.6">120</text>
<text transform="translate(-153.09,164.89) rotate(42.9)" font-size="6" font-weight="bold" font-family="Liberation Serif, serif" text-anchor="middle" dy="2">12</text>
<path d="M-162.71 129.73A208.1 208.1 0 0 1 -166.54 124.78L-155.73 116.69A194.6 194.6 0 0 0 -152.16 121.32Z" fill="#0e2e06" stroke="#222" stroke-width="0.25"/>
<path d="M-166.54 124.78A208.1 208.1 0 0 1 -168.39 122.27L-157.47 114.34A194.6 194.6 0 0 0 -155.73 116.69Z" fill="#80b060" stroke="#222" stroke-width="0.25"/>
<path d="M-168.39 122.27A208.1 208.1 0 0 1 -170.21 119.72L-159.17 111.96A194.6 194.6 0 0 0 -157.47 114.34Z" fill="#5a8a40" stroke="#222" stroke-width="0.25"/>
<path d="M-170.21 119.72A208.1 208.1 0 0 1 -171.74 117.52L-160.60 109.90A194.6 194.6 0 0 0 -159.17 111.96Z" fill="#90c070" stroke="#222" stroke-width="0.25"/>
<path d="M-171.74 117.52A208.1 208.1 0 0 1 -173.73 114.56L-162.46 107.12A194.6 194.6 0 0 0 -160.60 109.90Z" fill="#5a8a40" stroke="#222" stroke-width="0.25"/>
<path d="M-173.73 114.56A208.1 208.1 0 0 1 -174.95 112.68L-163.60 105.37A194.6 194.6 0 0 0 -162.46 107.12Z" fill="#90c070" stroke="#222" stroke-width="0.25"/>
<path d="M-174.95 112.68A208.1 208.1 0 0 1 -176.39 110.42L-164.95 103.26A194.6 194.6 0 0 0 -163.60 105.37Z" fill="#5a8a40" stroke="#222" stroke-width="0.25"/>
<path d="M-176.39 110.42A208.1 208.1 0 0 1 -177.80 108.14L-166.26 101.12A194.6 194.6 0 0 0 -164.95 103.26Z" fill="#90c070" stroke="#222" stroke-width="0.25"/>
<path d="M-177.80 108.14A208.1 208.1 0 0 1 -178.95 106.23L-167.34 99.33A194.6 194.6 0 0 0 -166.26 101.12Z" fill="#5a8a40" stroke="#222" stroke-width="0.25"/>
<path d="M-178.95 106.23A208.1 208.1 0 0 1 -180.30 103.91L-168.60 97.17A194.6 194.6 0 0 0 -167.34 99.33Z" fill="#90c070" stroke="#222" stroke-width="0.25"/>
<path d="M-180.30 103.91A208.1 208.1 0 0 1 -181.84 101.19L-170.04 94.63A194.6 194.6 0 0 0 -168.60 97.17Z" fill="#3a6a28" stroke="#222" stroke-width="0.25"/>
<path d="M-181.84 101.19A208.1 208.1 0 0 1 -182.70 99.63L-170.85 93.16A194.6 194.6 0 0 0 -170.04 94.63Z" fill="#5a8a40" stroke="#222" stroke-width="0.25"/>
<path d="M-182.70 99.63A208.1 208.1 0 0 1 -185.21 94.89L-173.19 88.73A194.6 194.6 0 0 0 -170.85 93.16Z" fill="#0e2e06" stroke="#222" stroke-width="0.25"/>
<path d="M-185.21 94.89A208.1 208.1 0 0 1 -186.42 92.49L-174.32 86.49A194.6 194.6 0 0 0 -173.19 88.73Z" fill="#90c070" stroke="#222" stroke-width="0.25"/>
<path d="M-186.42 92.49A208.1 208.1 0 0 1 -187.78 89.68L-175.60 83.86A194.6 194.6 0 0 0 -174.32 86.49Z" fill="#5a8a40" stroke="#222" stroke-width="0.25"/>
<path d="M-187.78 89.68A208.1 208.1 0 0 1 -189.11 86.85L-176.84 81.22A194.6 194.6 0 0 0 -175.60 83.86Z" fill="#80b060" stroke="#222" stroke-width="0.25"/>
<path d="M-189.11 86.85A208.1 208.1 0 0 1 -190.47 83.83L-178.11 78.39A194.6 194.6 0 0 0 -176.84 81.22Z" fill="#5a8a40" stroke="#222" stroke-width="0.25"/>
<path d="M-162.71 129.73A208.1 208.1 0 0 1 -190.47 83.83L-178.11 78.39A194.6 194.6 0 0 0 -152.16 121.32Z" fill="none" stroke="#222" stroke-width="0.5"/>
<path d="M-162.95 129.92L-164.12 130.86" stroke="#666" stroke-width="0.4"/>
<text transform="translate(-164.28,130.98) rotate(-38.6)" font-size="4.6" fill="#6a6a6a" text-anchor="end" dy="1.6">0</text>
<path d="M-168.37 122.81L-169.58 123.69" stroke="#666" stroke-width="0.4"/>
<text transform="translate(-169.75,123.81) rotate(-36.1)" font-size="4.6" fill="#6a6a6a" text-anchor="end" dy="1.6">20</text>
<path d="M-173.49 115.47L-174.74 116.30" stroke="#666" stroke-width="0.4"/>
<text transform="translate(-174.90,116.41) rotate(-33.6)" font-size="4.6" fill="#6a6a6a" text-anchor="end" dy="1.6">40</text>
<path d="M-178.28 107.91L-179.57 108.69" stroke="#666" stroke-width="0.4"/>
<text transform="translate(-179.74,108.79) rotate(-31.2)" font-size="4.6" fill="#6a6a6a" text-anchor="end" dy="1.6">60</text>
<path d="M-182.75 100.16L-184.07 100.88" stroke="#666" stroke-width="0.4"/>
<text transform="translate(-184.24,100.98) rotate(-28.7)" font-size="4.6" fill="#6a6a6a" text-anchor="end" dy="1.6">80</text>
<path d="M-186.88 92.23L-188.23 92.89" stroke="#666" stroke-width="0.4"/>
<text transform="translate(-188.41,92.98) rotate(-26.3)" font-size="4.6" fill="#6a6a6a" text-anchor="end" dy="1.6">100</text>
<path d="M-190.67 84.12L-192.04 84.72" stroke="#666" stroke-width="0.4"/>
<text transform="translate(-192.22,84.81) rotate(-23.8)" font-size="4.6" fill="#6a6a6a" text-anchor="end" dy="1.6">120</text>
<text transform="translate(-192.54,116.42) rotate(58.8)" font-size="6" font-weight="bold" font-family="Liberation Serif, serif" text-anchor="middle" dy="2">13</text>
<path d="M-192.14 79.92A208.1 208.1 0 0 1 -194.77 73.27L-182.14 68.52A194.6 194.6 0 0 0 -179.68 74.74Z" fill="#0a0a5a" stroke="#222" stroke-width="0.25"/>
<path d="M-194.77 73.27A208.1 208.1 0 0 1 -195.24 72.02L-182.58 67.35A194.6 194.6 0 0 0 -182.14 68.52Z" fill="#7070e0" stroke="#222" stroke-width="0.25"/>
<path d="M-195.24 72.02A208.1 208.1 0 0 1 -197.17 66.54L-184.38 62.23A194.6 194.6 0 0 0 -182.58 67.35Z" fill="#4a4ac0" stroke="#222" stroke-width="0.25"/>
<path d="M-197.17 66.54A208.1 208.1 0 0 1 -198.56 62.29L-185.68 58.25A194.6 194.6 0 0 0 -184.38 62.23Z" fill="#6060d0" stroke="#222" stroke-width="0.25"/>
<path d="M-198.56 62.29A208.1 208.1 0 0 1 -200.10 57.16L-187.12 53.45A194.6 194.6 0 0 0 -185.68 58.25Z" fill="#0e0e6a" stroke="#222" stroke-width="0.25"/>
<path d="M-200.10 57.16A208.1 208.1 0 0 1 -200.93 54.15L-187.90 50.63A194.6 194.6 0 0 0 -187.12 53.45Z" fill="#4040b0" stroke="#222" stroke-width="0.25"/>
<path d="M-200.93 54.15A208.1 208.1 0 0 1 -201.94 50.25L-188.84 46.99A194.6 194.6 0 0 0 -187.90 50.63Z" fill="#6868d8" stroke="#222" stroke-width="0.25"/>
<path d="M-201.94 50.25A208.1 208.1 0 0 1 -202.97 45.91L-189.81 42.93A194.6 194.6 0 0 0 -188.84 46.99Z" fill="#5050c0" stroke="#222" stroke-width="0.25"/>
<path d="M-202.97 45.91A208.1 208.1 0 0 1 -203.91 41.54L-190.68 38.84A194.6 194.6 0 0 0 -189.81 42.93Z" fill="#6060d0" stroke="#222" stroke-width="0.25"/>
<path d="M-203.91 41.54A208.1 208.1 0 0 1 -205.22 34.51L-191.91 32.27A194.6 194.6 0 0 0 -190.68 38.84Z" fill="#0a0a5a" stroke="#222" stroke-width="0.25"/>
<path d="M-205.22 34.51A208.1 208.1 0 0 1 -205.58 32.31L-192.24 30.21A194.6 194.6 0 0 0 -191.91 32.27Z" fill="#7070e0" stroke="#222" stroke-width="0.25"/>
<path d="M-205.58 32.31A208.1 208.1 0 0 1 -206.45 26.16L-193.06 24.46A194.6 194.6 0 0 0 -192.24 30.21Z" fill="#0e0e6a" stroke="#222" stroke-width="0.25"/>
<path d="M-192.14 79.92A208.1 208.1 0 0 1 -206.45 26.16L-193.06 24.46A194.6 194.6 0 0 0 -179.68 74.74Z" fill="none" stroke="#222" stroke-width="0.5"/>
<path d="M-192.42 80.03L-193.80 80.61" stroke="#666" stroke-width="0.4"/>
<text transform="translate(-193.99,80.69) rotate(-22.6)" font-size="4.6" fill="#6a6a6a" text-anchor="end" dy="1.6">0</text>
<path d="M-195.68 71.70L-197.09 72.22" stroke="#666" stroke-width="0.4"/>
<text transform="translate(-197.27,72.29) rotate(-20.1)" font-size="4.6" fill="#6a6a6a" text-anchor="end" dy="1.6">20</text>
<path d="M-198.57 63.24L-200.00 63.69" stroke="#666" stroke-width="0.4"/>
<text transform="translate(-200.19,63.75) rotate(-17.7)" font-size="4.6" fill="#6a6a6a" text-anchor="end" dy="1.6">40</text>
<path d="M-201.11 54.66L-202.55 55.05" stroke="#666" stroke-width="0.4"/>
<text transform="translate(-202.75,55.10) rotate(-15.2)" font-size="4.6" fill="#6a6a6a" text-anchor="end" dy="1.6">60</text>
<path d="M-203.27 45.97L-204.73 46.30" stroke="#666" stroke-width="0.4"/>
<text transform="translate(-204.92,46.35) rotate(-12.7)" font-size="4.6" fill="#6a6a6a" text-anchor="end" dy="1.6">80</text>
<path d="M-205.05 37.21L-206.53 37.47" stroke="#666" stroke-width="0.4"/>
<text transform="translate(-206.72,37.51) rotate(-10.3)" font-size="4.6" fill="#6a6a6a" text-anchor="end" dy="1.6">100</text>
<path d="M-206.46 28.37L-207.95 28.58" stroke="#666" stroke-width="0.4"/>
<text transform="translate(-208.14,28.60) rotate(-7.8)" font-size="4.6" fill="#6a6a6a" text-anchor="end" dy="1.6">120</text>
<text transform="translate(-217.43,57.87) rotate(75.1)" font-size="6" font-weight="bold" font-family="Liberation Serif, serif" text-anchor="middle" dy="2">14</text>
<path d="M-206.94 21.94A208.1 208.1 0 0 1 -207.54 15.27L-194.08 14.27A194.6 194.6 0 0 0 -193.52 20.52Z" fill="#1a2a6a" stroke="#222" stroke-width="0.25"/>
<path d="M-207.54 15.27A208.1 208.1 0 0 1 -207.60 14.37L-194.14 13.44A194.6 194.6 0 0 0 -194.08 14.27Z" fill="#4a60a8" stroke="#222" stroke-width="0.25"/>
<path d="M-207.60 14.37A208.1 208.1 0 0 1 -207.72 12.59L-194.24 11.77A194.6 194.6 0 0 0 -194.14 13.44Z" fill="#a0b8f0" stroke="#222" stroke-width="0.25"/>
<path d="M-207.72 12.59A208.1 208.1 0 0 1 -207.88 9.47L-194.40 8.85A194.6 194.6 0 0 0 -194.24 11.77Z" fill="#8098d8" stroke="#222" stroke-width="0.25"/>
<path d="M-207.88 9.47A208.1 208.1 0 0 1 -207.96 7.68L-194.47 7.18A194.6 194.6 0 0 0 -194.40 8.85Z" fill="#4a60a8" stroke="#222" stroke-width="0.25"/>
<path d="M-207.96 7.68A208.1 208.1 0 0 1 -208.09 2.32L-194.59 2.17A194.6 194.6 0 0 0 -194.47 7.18Z" fill="#1a2a6a" stroke="#222" stroke-width="0.25"/>
<path d="M-208.09 2.32A208.1 208.1 0 0 1 -208.09 -1.70L-194.59 -1.59A194.6 194.6 0 0 0 -194.59 2.17Z" fill="#8098d8" stroke="#222" stroke-width="0.25"/>
<path d="M-208.09 -1.70A208.1 208.1 0 0 1 -207.96 -7.50L-194.47 -7.02A194.6 194.6 0 0 0 -194.59 -1.59Z" fill="#1a2a6a" stroke="#222" stroke-width="0.25"/>
<path d="M-207.96 -7.50A208.1 208.1 0 0 1 -207.83 -10.63L-194.35 -9.94A194.6 194.6 0 0 0 -194.47 -7.02Z" fill="#5a70b8" stroke="#222" stroke-width="0.25"/>
<path d="M-207.83 -10.63A208.1 208.1 0 0 1 -207.58 -14.64L-194.12 -13.69A194.6 194.6 0 0 0 -194.35 -9.94Z" fill="#a0b8f0" stroke="#222" stroke-width="0.25"/>
<path d="M-207.58 -14.64A208.1 208.1 0 0 1 -207.45 -16.42L-193.99 -15.36A194.6 194.6 0 0 0 -194.12 -13.69Z" fill="#6078c0" stroke="#222" stroke-width="0.25"/>
<path d="M-207.45 -16.42A208.1 208.1 0 0 1 -207.09 -20.43L-193.66 -19.10A194.6 194.6 0 0 0 -193.99 -15.36Z" fill="#a8c0f0" stroke="#222" stroke-width="0.25"/>
<path d="M-207.09 -20.43A208.1 208.1 0 0 1 -206.66 -24.42L-193.25 -22.84A194.6 194.6 0 0 0 -193.66 -19.10Z" fill="#90a8e0" stroke="#222" stroke-width="0.25"/>
<path d="M-206.94 21.94A208.1 208.1 0 0 1 -206.66 -24.44L-193.25 -22.86A194.6 194.6 0 0 0 -193.52 20.52Z" fill="none" stroke="#222" stroke-width="0.5"/>
<path d="M-207.24 21.97L-208.73 22.13" stroke="#666" stroke-width="0.4"/>
<text transform="translate(-208.93,22.15) rotate(-6.1)" font-size="4.6" fill="#6a6a6a" text-anchor="end" dy="1.6">0</text>
<path d="M-207.99 13.06L-209.49 13.15" stroke="#666" stroke-width="0.4"/>
<text transform="translate(-209.69,13.16) rotate(-3.6)" font-size="4.6" fill="#6a6a6a" text-anchor="end" dy="1.6">20</text>
<path d="M-208.36 4.12L-209.86 4.15" stroke="#666" stroke-width="0.4"/>
<text transform="translate(-210.06,4.15) rotate(-1.1)" font-size="4.6" fill="#6a6a6a" text-anchor="end" dy="1.6">40</text>
<path d="M-208.34 -4.83L-209.84 -4.87" stroke="#666" stroke-width="0.4"/>
<text transform="translate(-210.04,-4.87) rotate(1.3)" font-size="4.6" fill="#6a6a6a" text-anchor="end" dy="1.6">60</text>
<path d="M-207.94 -13.77L-209.44 -13.87" stroke="#666" stroke-width="0.4"/>
<text transform="translate(-209.64,-13.88) rotate(3.8)" font-size="4.6" fill="#6a6a6a" text-anchor="end" dy="1.6">80</text>
<path d="M-207.16 -22.68L-208.65 -22.84" stroke="#666" stroke-width="0.4"/>
<text transform="translate(-208.85,-22.87) rotate(6.2)" font-size="4.6" fill="#6a6a6a" text-anchor="end" dy="1.6">100</text>
<text transform="translate(-225.00,-1.36) rotate(270.3)" font-size="6" font-weight="bold" font-family="Liberation Serif, serif" text-anchor="middle" dy="2">15</text>
<path d="M-206.12 -28.66A208.1 208.1 0 0 1 -205.09 -35.28L-191.78 -32.99A194.6 194.6 0 0 0 -192.75 -26.80Z" fill="#2a3a5a" stroke="#222" stroke-width="0.25"/>
<path d="M-205.09 -35.28A208.1 208.1 0 0 1 -204.53 -38.36L-191.27 -35.87A194.6 194.6 0 0 0 -191.78 -32.99Z" fill="#b0c8f0" stroke="#222" stroke-width="0.25"/>
<path d="M-204.53 -38.36A208.1 208.1 0 0 1 -203.94 -41.43L-190.71 -38.74A194.6 194.6 0 0 0 -191.27 -35.87Z" fill="#7890c0" stroke="#222" stroke-width="0.25"/>
<path d="M-203.94 -41.43A208.1 208.1 0 0 1 -203.00 -45.79L-189.83 -42.82A194.6 194.6 0 0 0 -190.71 -38.74Z" fill="#b8d0f8" stroke="#222" stroke-width="0.25"/>
<path d="M-203.00 -45.79A208.1 208.1 0 0 1 -202.29 -48.84L-189.16 -45.67A194.6 194.6 0 0 0 -189.83 -42.82Z" fill="#90a8d8" stroke="#222" stroke-width="0.25"/>
<path d="M-202.29 -48.84A208.1 208.1 0 0 1 -201.64 -51.44L-188.56 -48.10A194.6 194.6 0 0 0 -189.16 -45.67Z" fill="#b8d0f8" stroke="#222" stroke-width="0.25"/>
<path d="M-201.64 -51.44A208.1 208.1 0 0 1 -200.85 -54.46L-187.82 -50.93A194.6 194.6 0 0 0 -188.56 -48.10Z" fill="#7890c0" stroke="#222" stroke-width="0.25"/>
<path d="M-200.85 -54.46A208.1 208.1 0 0 1 -200.01 -57.48L-187.03 -53.75A194.6 194.6 0 0 0 -187.82 -50.93Z" fill="#b8d0f8" stroke="#222" stroke-width="0.25"/>
<path d="M-200.01 -57.48A208.1 208.1 0 0 1 -199.12 -60.47L-186.20 -56.55A194.6 194.6 0 0 0 -187.03 -53.75Z" fill="#7890c0" stroke="#222" stroke-width="0.25"/>
<path d="M-199.12 -60.47A208.1 208.1 0 0 1 -197.77 -64.74L-184.94 -60.54A194.6 194.6 0 0 0 -186.20 -56.55Z" fill="#2a3a5a" stroke="#222" stroke-width="0.25"/>
<path d="M-197.77 -64.74A208.1 208.1 0 0 1 -196.78 -67.70L-184.01 -63.31A194.6 194.6 0 0 0 -184.94 -60.54Z" fill="#405878" stroke="#222" stroke-width="0.25"/>
<path d="M-196.78 -67.70A208.1 208.1 0 0 1 -195.56 -71.16L-182.87 -66.54A194.6 194.6 0 0 0 -184.01 -63.31Z" fill="#c0d8f8" stroke="#222" stroke-width="0.25"/>
<path d="M-206.12 -28.66A208.1 208.1 0 0 1 -195.56 -71.16L-182.87 -66.54A194.6 194.6 0 0 0 -192.75 -26.80Z" fill="none" stroke="#222" stroke-width="0.5"/>
<path d="M-206.41 -28.70L-207.90 -28.90" stroke="#666" stroke-width="0.4"/>
<text transform="translate(-208.10,-28.93) rotate(7.9)" font-size="4.6" fill="#6a6a6a" text-anchor="end" dy="1.6">0</text>
<path d="M-204.99 -37.53L-206.47 -37.80" stroke="#666" stroke-width="0.4"/>
<text transform="translate(-206.66,-37.84) rotate(10.4)" font-size="4.6" fill="#6a6a6a" text-anchor="end" dy="1.6">20</text>
<path d="M-203.19 -46.30L-204.66 -46.63" stroke="#666" stroke-width="0.4"/>
<text transform="translate(-204.85,-46.67) rotate(12.8)" font-size="4.6" fill="#6a6a6a" text-anchor="end" dy="1.6">40</text>
<path d="M-201.02 -54.97L-202.47 -55.37" stroke="#666" stroke-width="0.4"/>
<text transform="translate(-202.66,-55.42) rotate(15.3)" font-size="4.6" fill="#6a6a6a" text-anchor="end" dy="1.6">60</text>
<path d="M-198.47 -63.55L-199.90 -64.01" stroke="#666" stroke-width="0.4"/>
<text transform="translate(-200.09,-64.07) rotate(17.8)" font-size="4.6" fill="#6a6a6a" text-anchor="end" dy="1.6">80</text>
<text transform="translate(-218.36,-54.26) rotate(284.0)" font-size="6" font-weight="bold" font-family="Liberation Serif, serif" text-anchor="middle" dy="2">16</text>
<path d="M-194.06 -75.14A208.1 208.1 0 0 1 -192.40 -79.28L-179.92 -74.14A194.6 194.6 0 0 0 -181.47 -70.26Z" fill="#0a5050" stroke="#222" stroke-width="0.25"/>
<path d="M-192.40 -79.28A208.1 208.1 0 0 1 -191.19 -82.17L-178.79 -76.84A194.6 194.6 0 0 0 -179.92 -74.14Z" fill="#20a0a0" stroke="#222" stroke-width="0.25"/>
<path d="M-191.19 -82.17A208.1 208.1 0 0 1 -189.38 -86.25L-177.10 -80.66A194.6 194.6 0 0 0 -178.79 -76.84Z" fill="#50e0e0" stroke="#222" stroke-width="0.25"/>
<path d="M-189.38 -86.25A208.1 208.1 0 0 1 -187.49 -90.30L-175.33 -84.44A194.6 194.6 0 0 0 -177.10 -80.66Z" fill="#20b0b0" stroke="#222" stroke-width="0.25"/>
<path d="M-187.49 -90.30A208.1 208.1 0 0 1 -185.51 -94.30L-173.47 -88.18A194.6 194.6 0 0 0 -175.33 -84.44Z" fill="#40d0d0" stroke="#222" stroke-width="0.25"/>
<path d="M-185.51 -94.30A208.1 208.1 0 0 1 -183.23 -98.65L-171.34 -92.25A194.6 194.6 0 0 0 -173.47 -88.18Z" fill="#20a8a8" stroke="#222" stroke-width="0.25"/>
<path d="M-183.23 -98.65A208.1 208.1 0 0 1 -181.07 -102.57L-169.32 -95.91A194.6 194.6 0 0 0 -171.34 -92.25Z" fill="#0a5050" stroke="#222" stroke-width="0.25"/>
<path d="M-181.07 -102.57A208.1 208.1 0 0 1 -179.51 -105.27L-167.86 -98.44A194.6 194.6 0 0 0 -169.32 -95.91Z" fill="#20a0a0" stroke="#222" stroke-width="0.25"/>
<path d="M-179.51 -105.27A208.1 208.1 0 0 1 -178.14 -107.58L-166.58 -100.60A194.6 194.6 0 0 0 -167.86 -98.44Z" fill="#50e0e0" stroke="#222" stroke-width="0.25"/>
<path d="M-178.14 -107.58A208.1 208.1 0 0 1 -176.50 -110.24L-165.05 -103.09A194.6 194.6 0 0 0 -166.58 -100.60Z" fill="#20a0a0" stroke="#222" stroke-width="0.25"/>
<path d="M-176.50 -110.24A208.1 208.1 0 0 1 -174.83 -112.88L-163.48 -105.56A194.6 194.6 0 0 0 -165.05 -103.09Z" fill="#60f0f0" stroke="#222" stroke-width="0.25"/>
<path d="M-194.06 -75.14A208.1 208.1 0 0 1 -174.83 -112.88L-163.48 -105.56A194.6 194.6 0 0 0 -181.47 -70.26Z" fill="none" stroke="#222" stroke-width="0.5"/>
<path d="M-194.34 -75.24L-195.74 -75.79" stroke="#666" stroke-width="0.4"/>
<text transform="translate(-195.93,-75.86) rotate(21.2)" font-size="4.6" fill="#6a6a6a" text-anchor="end" dy="1.6">0</text>
<path d="M-190.93 -83.52L-192.31 -84.12" stroke="#666" stroke-width="0.4"/>
<text transform="translate(-192.49,-84.20) rotate(23.6)" font-size="4.6" fill="#6a6a6a" text-anchor="end" dy="1.6">20</text>
<path d="M-187.17 -91.63L-188.52 -92.29" stroke="#666" stroke-width="0.4"/>
<text transform="translate(-188.70,-92.38) rotate(26.1)" font-size="4.6" fill="#6a6a6a" text-anchor="end" dy="1.6">40</text>
<path d="M-183.07 -99.58L-184.38 -100.30" stroke="#666" stroke-width="0.4"/>
<text transform="translate(-184.56,-100.40) rotate(28.5)" font-size="4.6" fill="#6a6a6a" text-anchor="end" dy="1.6">60</text>
<path d="M-178.62 -107.35L-179.91 -108.12" stroke="#666" stroke-width="0.4"/>
<text transform="translate(-180.08,-108.23) rotate(31.0)" font-size="4.6" fill="#6a6a6a" text-anchor="end" dy="1.6">80</text>
<text transform="translate(-200.46,-102.17) rotate(297.0)" font-size="6" font-weight="bold" font-family="Liberation Serif, serif" text-anchor="middle" dy="2">17</text>
<path d="M-172.48 -116.42A208.1 208.1 0 0 1 -165.72 -125.87L-154.97 -117.70A194.6 194.6 0 0 0 -161.29 -108.87Z" fill="#2a5050" stroke="#222" stroke-width="0.25"/>
<path d="M-165.72 -125.87A208.1 208.1 0 0 1 -162.98 -129.39L-152.41 -121.00A194.6 194.6 0 0 0 -154.97 -117.70Z" fill="#d0f8f8" stroke="#222" stroke-width="0.25"/>
<path d="M-162.98 -129.39A208.1 208.1 0 0 1 -161.30 -131.48L-150.84 -122.95A194.6 194.6 0 0 0 -152.41 -121.00Z" fill="#80a8a8" stroke="#222" stroke-width="0.25"/>
<path d="M-161.30 -131.48A208.1 208.1 0 0 1 -159.31 -133.89L-148.97 -125.21A194.6 194.6 0 0 0 -150.84 -122.95Z" fill="#d0f8f8" stroke="#222" stroke-width="0.25"/>
<path d="M-159.31 -133.89A208.1 208.1 0 0 1 -156.69 -136.94L-146.53 -128.06A194.6 194.6 0 0 0 -148.97 -125.21Z" fill="#2a5050" stroke="#222" stroke-width="0.25"/>
<path d="M-156.69 -136.94A208.1 208.1 0 0 1 -154.61 -139.28L-144.58 -130.25A194.6 194.6 0 0 0 -146.53 -128.06Z" fill="#406868" stroke="#222" stroke-width="0.25"/>
<path d="M-154.61 -139.28A208.1 208.1 0 0 1 -152.81 -141.26L-142.90 -132.10A194.6 194.6 0 0 0 -144.58 -130.25Z" fill="#d0f8f8" stroke="#222" stroke-width="0.25"/>
<path d="M-152.81 -141.26A208.1 208.1 0 0 1 -150.67 -143.54L-140.89 -134.23A194.6 194.6 0 0 0 -142.90 -132.10Z" fill="#80a8a8" stroke="#222" stroke-width="0.25"/>
<path d="M-150.67 -143.54A208.1 208.1 0 0 1 -146.70 -147.60L-137.18 -138.02A194.6 194.6 0 0 0 -140.89 -134.23Z" fill="#d0f8f8" stroke="#222" stroke-width="0.25"/>
<path d="M-172.48 -116.42A208.1 208.1 0 0 1 -146.70 -147.60L-137.18 -138.02A194.6 194.6 0 0 0 -161.29 -108.87Z" fill="none" stroke="#222" stroke-width="0.5"/>
<path d="M-172.73 -116.59L-173.98 -117.43" stroke="#666" stroke-width="0.4"/>
<text transform="translate(-174.14,-117.54) rotate(34.0)" font-size="4.6" fill="#6a6a6a" text-anchor="end" dy="1.6">0</text>
<path d="M-167.57 -123.90L-168.78 -124.79" stroke="#666" stroke-width="0.4"/>
<text transform="translate(-168.94,-124.91) rotate(36.5)" font-size="4.6" fill="#6a6a6a" text-anchor="end" dy="1.6">20</text>
<path d="M-162.10 -130.98L-163.26 -131.92" stroke="#666" stroke-width="0.4"/>
<text transform="translate(-163.42,-132.05) rotate(38.9)" font-size="4.6" fill="#6a6a6a" text-anchor="end" dy="1.6">40</text>
<path d="M-156.33 -137.81L-157.45 -138.81" stroke="#666" stroke-width="0.4"/>
<text transform="translate(-157.60,-138.94) rotate(41.4)" font-size="4.6" fill="#6a6a6a" text-anchor="end" dy="1.6">60</text>
<path d="M-150.27 -144.40L-151.35 -145.44" stroke="#666" stroke-width="0.4"/>
<text transform="translate(-151.49,-145.57) rotate(43.9)" font-size="4.6" fill="#6a6a6a" text-anchor="end" dy="1.6">80</text>
<text transform="translate(-173.37,-143.41) rotate(309.6)" font-size="6" font-weight="bold" font-family="Liberation Serif, serif" text-anchor="middle" dy="2">18</text>
<path d="M-143.65 -150.56A208.1 208.1 0 0 1 -138.40 -155.41L-129.42 -145.32A194.6 194.6 0 0 0 -134.34 -140.79Z" fill="#3a0a5a" stroke="#222" stroke-width="0.25"/>
<path d="M-138.40 -155.41A208.1 208.1 0 0 1 -135.71 -157.76L-126.91 -147.53A194.6 194.6 0 0 0 -129.42 -145.32Z" fill="#b070e0" stroke="#222" stroke-width="0.25"/>
<path d="M-135.71 -157.76A208.1 208.1 0 0 1 -133.32 -159.78L-124.68 -149.42A194.6 194.6 0 0 0 -126.91 -147.53Z" fill="#8030b0" stroke="#222" stroke-width="0.25"/>
<path d="M-133.32 -159.78A208.1 208.1 0 0 1 -130.56 -162.05L-122.09 -151.54A194.6 194.6 0 0 0 -124.68 -149.42Z" fill="#a050d0" stroke="#222" stroke-width="0.25"/>
<path d="M-130.56 -162.05A208.1 208.1 0 0 1 -127.76 -164.27L-119.47 -153.61A194.6 194.6 0 0 0 -122.09 -151.54Z" fill="#8a38c0" stroke="#222" stroke-width="0.25"/>
<path d="M-127.76 -164.27A208.1 208.1 0 0 1 -125.63 -165.90L-117.48 -155.14A194.6 194.6 0 0 0 -119.47 -153.61Z" fill="#b070e0" stroke="#222" stroke-width="0.25"/>
<path d="M-125.63 -165.90A208.1 208.1 0 0 1 -122.61 -168.14L-114.66 -157.24A194.6 194.6 0 0 0 -117.48 -155.14Z" fill="#9040c8" stroke="#222" stroke-width="0.25"/>
<path d="M-143.65 -150.56A208.1 208.1 0 0 1 -122.61 -168.14L-114.66 -157.24A194.6 194.6 0 0 0 -134.34 -140.79Z" fill="none" stroke="#222" stroke-width="0.5"/>
<path d="M-143.86 -150.78L-144.90 -151.86" stroke="#666" stroke-width="0.4"/>
<text transform="translate(-145.04,-152.01) rotate(46.3)" font-size="4.6" fill="#6a6a6a" text-anchor="end" dy="1.6">0</text>
<path d="M-137.26 -156.82L-138.25 -157.94" stroke="#666" stroke-width="0.4"/>
<text transform="translate(-138.38,-158.09) rotate(48.8)" font-size="4.6" fill="#6a6a6a" text-anchor="end" dy="1.6">20</text>
<path d="M-130.40 -162.56L-131.34 -163.73" stroke="#666" stroke-width="0.4"/>
<text transform="translate(-131.46,-163.89) rotate(51.3)" font-size="4.6" fill="#6a6a6a" text-anchor="end" dy="1.6">40</text>
<path d="M-123.30 -168.01L-124.19 -169.22" stroke="#666" stroke-width="0.4"/>
<text transform="translate(-124.31,-169.38) rotate(53.7)" font-size="4.6" fill="#6a6a6a" text-anchor="end" dy="1.6">60</text>
<text transform="translate(-144.26,-172.67) rotate(320.1)" font-size="6" font-weight="bold" font-family="Liberation Serif, serif" text-anchor="middle" dy="2">19</text>
<path d="M-119.15 -170.61A208.1 208.1 0 0 1 -114.72 -173.63L-107.27 -162.36A194.6 194.6 0 0 0 -111.42 -159.54Z" fill="#2e2e2e" stroke="#222" stroke-width="0.25"/>
<path d="M-114.72 -173.63A208.1 208.1 0 0 1 -112.47 -175.09L-105.17 -163.73A194.6 194.6 0 0 0 -107.27 -162.36Z" fill="#b0b0b0" stroke="#222" stroke-width="0.25"/>
<path d="M-112.47 -175.09A208.1 208.1 0 0 1 -110.21 -176.52L-103.06 -165.07A194.6 194.6 0 0 0 -105.17 -163.73Z" fill="#808080" stroke="#222" stroke-width="0.25"/>
<path d="M-110.21 -176.52A208.1 208.1 0 0 1 -107.16 -178.39L-100.21 -166.82A194.6 194.6 0 0 0 -103.06 -165.07Z" fill="#c8c8c8" stroke="#222" stroke-width="0.25"/>
<path d="M-107.16 -178.39A208.1 208.1 0 0 1 -104.85 -179.75L-98.05 -168.09A194.6 194.6 0 0 0 -100.21 -166.82Z" fill="#9a9a9a" stroke="#222" stroke-width="0.25"/>
<path d="M-104.85 -179.75A208.1 208.1 0 0 1 -101.75 -181.53L-95.15 -169.75A194.6 194.6 0 0 0 -98.05 -168.09Z" fill="#d0d0d0" stroke="#222" stroke-width="0.25"/>
<path d="M-101.75 -181.53A208.1 208.1 0 0 1 -99.40 -182.82L-92.95 -170.96A194.6 194.6 0 0 0 -95.15 -169.75Z" fill="#888888" stroke="#222" stroke-width="0.25"/>
<path d="M-99.40 -182.82A208.1 208.1 0 0 1 -96.25 -184.50L-90.00 -172.54A194.6 194.6 0 0 0 -92.95 -170.96Z" fill="#c0c0c0" stroke="#222" stroke-width="0.25"/>
<path d="M-96.25 -184.50A208.1 208.1 0 0 1 -93.07 -186.13L-87.03 -174.06A194.6 194.6 0 0 0 -90.00 -172.54Z" fill="#a0a0a0" stroke="#222" stroke-width="0.25"/>
<path d="M-93.07 -186.13A208.1 208.1 0 0 1 -90.26 -187.51L-84.40 -175.34A194.6 194.6 0 0 0 -87.03 -174.06Z" fill="#5a5a5a" stroke="#222" stroke-width="0.25"/>
<path d="M-90.26 -187.51A208.1 208.1 0 0 1 -81.72 -191.38L-76.42 -178.97A194.6 194.6 0 0 0 -84.40 -175.34Z" fill="#303030" stroke="#222" stroke-width="0.25"/>
<path d="M-81.72 -191.38A208.1 208.1 0 0 1 -77.59 -193.09L-72.56 -180.57A194.6 194.6 0 0 0 -76.42 -178.97Z" fill="#c4c4c4" stroke="#222" stroke-width="0.25"/>
<path d="M-77.59 -193.09A208.1 208.1 0 0 1 -74.26 -194.40L-69.44 -181.79A194.6 194.6 0 0 0 -72.56 -180.57Z" fill="#505050" stroke="#222" stroke-width="0.25"/>
<path d="M-74.26 -194.40A208.1 208.1 0 0 1 -69.23 -196.25L-64.74 -183.52A194.6 194.6 0 0 0 -69.44 -181.79Z" fill="#2e2e2e" stroke="#222" stroke-width="0.25"/>
<path d="M-69.23 -196.25A208.1 208.1 0 0 1 -65.85 -197.41L-61.58 -184.60A194.6 194.6 0 0 0 -64.74 -183.52Z" fill="#8a8a8a" stroke="#222" stroke-width="0.25"/>
<path d="M-65.85 -197.41A208.1 208.1 0 0 1 -60.74 -199.04L-56.80 -186.13A194.6 194.6 0 0 0 -61.58 -184.60Z" fill="#c8c8c8" stroke="#222" stroke-width="0.25"/>
<path d="M-60.74 -199.04A208.1 208.1 0 0 1 -58.17 -199.80L-54.40 -186.84A194.6 194.6 0 0 0 -56.80 -186.13Z" fill="#9a9a9a" stroke="#222" stroke-width="0.25"/>
<path d="M-58.17 -199.80A208.1 208.1 0 0 1 -54.73 -200.77L-51.18 -187.75A194.6 194.6 0 0 0 -54.40 -186.84Z" fill="#d0d0d0" stroke="#222" stroke-width="0.25"/>
<path d="M-54.73 -200.77A208.1 208.1 0 0 1 -52.14 -201.46L-48.76 -188.39A194.6 194.6 0 0 0 -51.18 -187.75Z" fill="#a8a8a8" stroke="#222" stroke-width="0.25"/>
<path d="M-52.14 -201.46A208.1 208.1 0 0 1 -49.97 -202.01L-46.72 -188.91A194.6 194.6 0 0 0 -48.76 -188.39Z" fill="#d0d0d0" stroke="#222" stroke-width="0.25"/>
<path d="M-119.15 -170.61A208.1 208.1 0 0 1 -49.97 -202.01L-46.72 -188.91A194.6 194.6 0 0 0 -111.42 -159.54Z" fill="none" stroke="#222" stroke-width="0.5"/>
<path d="M-119.32 -170.86L-120.18 -172.09" stroke="#666" stroke-width="0.4"/>
<text transform="translate(-120.30,-172.25) rotate(55.1)" font-size="4.6" fill="#6a6a6a" text-anchor="end" dy="1.6">0</text>
<path d="M-111.88 -175.82L-112.68 -177.09" stroke="#666" stroke-width="0.4"/>
<text transform="translate(-112.79,-177.26) rotate(57.5)" font-size="4.6" fill="#6a6a6a" text-anchor="end" dy="1.6">20</text>
<path d="M-104.23 -180.46L-104.98 -181.76" stroke="#666" stroke-width="0.4"/>
<text transform="translate(-105.08,-181.94) rotate(60.0)" font-size="4.6" fill="#6a6a6a" text-anchor="end" dy="1.6">40</text>
<path d="M-96.39 -184.77L-97.08 -186.10" stroke="#666" stroke-width="0.4"/>
<text transform="translate(-97.17,-186.28) rotate(62.5)" font-size="4.6" fill="#6a6a6a" text-anchor="end" dy="1.6">60</text>
<path d="M-88.37 -188.74L-89.00 -190.10" stroke="#666" stroke-width="0.4"/>
<text transform="translate(-89.09,-190.28) rotate(64.9)" font-size="4.6" fill="#6a6a6a" text-anchor="end" dy="1.6">80</text>
<path d="M-80.19 -192.36L-80.76 -193.74" stroke="#666" stroke-width="0.4"/>
<text transform="translate(-80.84,-193.93) rotate(67.4)" font-size="4.6" fill="#6a6a6a" text-anchor="end" dy="1.6">100</text>
<path d="M-71.86 -195.62L-72.37 -197.03" stroke="#666" stroke-width="0.4"/>
<text transform="translate(-72.44,-197.22) rotate(69.8)" font-size="4.6" fill="#6a6a6a" text-anchor="end" dy="1.6">120</text>
<path d="M-63.39 -198.52L-63.85 -199.95" stroke="#666" stroke-width="0.4"/>
<text transform="translate(-63.91,-200.14) rotate(72.3)" font-size="4.6" fill="#6a6a6a" text-anchor="end" dy="1.6">140</text>
<path d="M-54.81 -201.06L-55.21 -202.51" stroke="#666" stroke-width="0.4"/>
<text transform="translate(-55.26,-202.70) rotate(74.8)" font-size="4.6" fill="#6a6a6a" text-anchor="end" dy="1.6">160</text>
<text transform="translate(-92.99,-204.89) rotate(335.6)" font-size="6" font-weight="bold" font-family="Liberation Serif, serif" text-anchor="middle" dy="2">x</text>
<path d="M-45.83 -202.99A208.1 208.1 0 0 1 -36.20 -204.93L-33.85 -191.63A194.6 194.6 0 0 0 -42.86 -189.82Z" fill="#3a3a3a" stroke="#222" stroke-width="0.25"/>
<path d="M-36.20 -204.93A208.1 208.1 0 0 1 -31.35 -205.73L-29.31 -192.38A194.6 194.6 0 0 0 -33.85 -191.63Z" fill="#b0b0b0" stroke="#222" stroke-width="0.25"/>
<path d="M-31.35 -205.73A208.1 208.1 0 0 1 -25.15 -206.57L-23.52 -193.17A194.6 194.6 0 0 0 -29.31 -192.38Z" fill="#c8c8c8" stroke="#222" stroke-width="0.25"/>
<path d="M-25.15 -206.57A208.1 208.1 0 0 1 -21.15 -207.02L-19.78 -193.59A194.6 194.6 0 0 0 -23.52 -193.17Z" fill="#505050" stroke="#222" stroke-width="0.25"/>
<path d="M-21.15 -207.02A208.1 208.1 0 0 1 -18.93 -207.24L-17.70 -193.79A194.6 194.6 0 0 0 -19.78 -193.59Z" fill="#c0c0c0" stroke="#222" stroke-width="0.25"/>
<path d="M-18.93 -207.24A208.1 208.1 0 0 1 -14.03 -207.63L-13.12 -194.16A194.6 194.6 0 0 0 -17.70 -193.79Z" fill="#3a3a3a" stroke="#222" stroke-width="0.25"/>
<path d="M-14.03 -207.63A208.1 208.1 0 0 1 -10.46 -207.84L-9.79 -194.35A194.6 194.6 0 0 0 -13.12 -194.16Z" fill="#c0c0c0" stroke="#222" stroke-width="0.25"/>
<path d="M-10.46 -207.84A208.1 208.1 0 0 1 -7.79 -207.95L-7.28 -194.46A194.6 194.6 0 0 0 -9.79 -194.35Z" fill="#808080" stroke="#222" stroke-width="0.25"/>
<path d="M-7.79 -207.95A208.1 208.1 0 0 1 -5.22 -208.03L-4.89 -194.54A194.6 194.6 0 0 0 -7.28 -194.46Z" fill="#c8c8c8" stroke="#222" stroke-width="0.25"/>
<path d="M-45.83 -202.99A208.1 208.1 0 0 1 -5.22 -208.03L-4.89 -194.54A194.6 194.6 0 0 0 -42.86 -189.82Z" fill="none" stroke="#222" stroke-width="0.5"/>
<path d="M-45.90 -203.28L-46.23 -204.75" stroke="#666" stroke-width="0.4"/>
<text transform="translate(-46.27,-204.94) rotate(77.3)" font-size="4.6" fill="#6a6a6a" text-anchor="end" dy="1.6">0</text>
<path d="M-37.13 -205.07L-37.40 -206.54" stroke="#666" stroke-width="0.4"/>
<text transform="translate(-37.43,-206.74) rotate(79.7)" font-size="4.6" fill="#6a6a6a" text-anchor="end" dy="1.6">20</text>
<path d="M-28.29 -206.47L-28.50 -207.96" stroke="#666" stroke-width="0.4"/>
<text transform="translate(-28.52,-208.15) rotate(82.2)" font-size="4.6" fill="#6a6a6a" text-anchor="end" dy="1.6">40</text>
<path d="M-19.40 -207.49L-19.54 -208.99" stroke="#666" stroke-width="0.4"/>
<text transform="translate(-19.56,-209.19) rotate(84.7)" font-size="4.6" fill="#6a6a6a" text-anchor="end" dy="1.6">60</text>
<path d="M-10.48 -208.14L-10.56 -209.63" stroke="#666" stroke-width="0.4"/>
<text transform="translate(-10.57,-209.83) rotate(87.1)" font-size="4.6" fill="#6a6a6a" text-anchor="end" dy="1.6">80</text>
<text transform="translate(-27.73,-223.28) rotate(352.9)" font-size="6" font-weight="bold" font-family="Liberation Serif, serif" text-anchor="middle" dy="2">y</text>
<circle cx="3.17" cy="-181.37" r="1.6" fill="#84192a"/>
<circle cx="8.32" cy="-181.21" r="1.6" fill="#eec696"/>
<circle cx="18.33" cy="-180.47" r="1.6" fill="#e08472"/>
<circle cx="20.69" cy="-180.22" r="1.6" fill="#e08472"/>
<circle cx="25.68" cy="-179.57" r="1.6" fill="#c02a3a"/>
<circle cx="36.63" cy="-177.66" r="1.6" fill="#361628"/>
<circle cx="40.40" cy="-176.84" r="1.6" fill="#eec696"/>
<circle cx="47.10" cy="-175.18" r="1.6" fill="#eca050"/>
<circle cx="51.06" cy="-174.06" r="1.6" fill="#eca050"/>
<circle cx="53.76" cy="-173.25" r="1.6" fill="#eca050"/>
<circle cx="56.57" cy="-172.35" r="1.6" fill="#eca050"/>
<circle cx="65.39" cy="-169.20" r="1.6" fill="#c02a3a"/>
<circle cx="66.95" cy="-168.59" r="1.6" fill="#c02a3a"/>
<circle cx="73.61" cy="-165.79" r="1.6" fill="#84192a"/>
<circle cx="78.75" cy="-163.41" r="1.6" fill="#eca050"/>
<circle cx="82.21" cy="-161.70" r="1.6" fill="#eec696"/>
<circle cx="86.19" cy="-159.61" r="1.6" fill="#84192a"/>
<circle cx="92.01" cy="-156.33" r="1.6" fill="#c02a3a"/>
<circle cx="95.72" cy="-154.09" r="1.6" fill="#c02a3a"/>
<circle cx="97.07" cy="-153.25" r="1.6" fill="#c02a3a"/>
<circle cx="110.20" cy="-144.09" r="1.6" fill="#e08472"/>
<circle cx="113.57" cy="-141.45" r="1.6" fill="#c02a3a"/>
<circle cx="118.22" cy="-137.59" r="1.6" fill="#c02a3a"/>
<circle cx="127.44" cy="-129.09" r="1.6" fill="#eca050"/>
<circle cx="132.08" cy="-124.34" r="1.6" fill="#eca050"/>
<circle cx="137.73" cy="-118.05" r="1.6" fill="#eec696"/>
<circle cx="141.27" cy="-113.79" r="1.6" fill="#eec696"/>
<circle cx="146.55" cy="-106.91" r="1.6" fill="#eec696"/>
<circle cx="151.09" cy="-100.39" r="1.6" fill="#c02a3a"/>
<circle cx="153.25" cy="-97.07" r="1.6" fill="#e08472"/>
<circle cx="157.96" cy="-89.19" r="1.6" fill="#f4dea4"/>
<circle cx="160.34" cy="-84.83" r="1.6" fill="#eec696"/>
<circle cx="162.92" cy="-79.78" r="1.6" fill="#c02a3a"/>
<circle cx="164.44" cy="-76.58" r="1.6" fill="#c02a3a"/>
<circle cx="167.42" cy="-69.83" r="1.6" fill="#f4dea4"/>
<circle cx="171.30" cy="-59.69" r="1.6" fill="#84192a"/>
<circle cx="172.52" cy="-56.06" r="1.6" fill="#c02a3a"/>
<circle cx="175.02" cy="-47.68" r="1.6" fill="#c02a3a"/>
<circle cx="176.28" cy="-42.78" r="1.6" fill="#84192a"/>
<circle cx="177.74" cy="-36.26" r="1.6" fill="#84192a"/>
<circle cx="178.72" cy="-31.06" r="1.6" fill="#84192a"/>
<circle cx="179.56" cy="-25.78" r="1.6" fill="#eca050"/>
<circle cx="180.14" cy="-21.38" r="1.6" fill="#84192a"/>
<circle cx="180.76" cy="-15.18" r="1.6" fill="#c02a3a"/>
<circle cx="181.13" cy="-9.87" r="1.6" fill="#f4dea4"/>
<circle cx="181.36" cy="-3.70" r="1.6" fill="#c02a3a"/>
<circle cx="181.39" cy="1.99" r="1.6" fill="#84192a"/>
<circle cx="181.32" cy="5.48" r="1.6" fill="#84192a"/>
<circle cx="180.93" cy="13.06" r="1.6" fill="#eca050"/>
<circle cx="180.56" cy="17.48" r="1.6" fill="#eca050"/>
<circle cx="179.82" cy="23.87" r="1.6" fill="#84192a"/>
<circle cx="179.08" cy="28.94" r="1.6" fill="#c02a3a"/>
<circle cx="178.45" cy="32.59" r="1.6" fill="#c02a3a"/>
<circle cx="177.15" cy="39.01" r="1.6" fill="#84192a"/>
<circle cx="176.15" cy="43.33" r="1.6" fill="#eca050"/>
<circle cx="175.10" cy="47.41" r="1.6" fill="#eec696"/>
<circle cx="172.98" cy="54.64" r="1.6" fill="#c02a3a"/>
<circle cx="171.98" cy="57.71" r="1.6" fill="#c02a3a"/>
<circle cx="168.92" cy="66.13" r="1.6" fill="#eca050"/>
<circle cx="167.36" cy="69.97" r="1.6" fill="#eca050"/>
<circle cx="164.86" cy="75.69" r="1.6" fill="#eca050"/>
<circle cx="162.87" cy="79.86" r="1.6" fill="#eec696"/>
<circle cx="160.03" cy="85.41" r="1.6" fill="#361628"/>
<circle cx="158.70" cy="87.86" r="1.6" fill="#84192a"/>
<circle cx="153.38" cy="96.85" r="1.6" fill="#84192a"/>
<circle cx="149.96" cy="102.07" r="1.6" fill="#eca050"/>
<circle cx="148.19" cy="104.62" r="1.6" fill="#e08472"/>
<circle cx="135.97" cy="120.08" r="1.6" fill="#84192a"/>
<circle cx="133.03" cy="123.32" r="1.6" fill="#c02a3a"/>
<circle cx="131.23" cy="125.23" r="1.6" fill="#e08472"/>
<circle cx="126.22" cy="130.29" r="1.6" fill="#c02a3a"/>
<circle cx="123.60" cy="132.78" r="1.6" fill="#e08472"/>
<circle cx="117.76" cy="137.98" r="1.6" fill="#84192a"/>
<circle cx="114.77" cy="140.47" r="1.6" fill="#84192a"/>
<circle cx="112.97" cy="141.93" r="1.6" fill="#c02a3a"/>
<circle cx="110.86" cy="143.59" r="1.6" fill="#c02a3a"/>
<circle cx="108.71" cy="145.21" r="1.6" fill="#c02a3a"/>
<circle cx="104.28" cy="148.43" r="1.6" fill="#84192a"/>
<circle cx="91.38" cy="156.70" r="1.6" fill="#e08472"/>
<circle cx="84.35" cy="160.60" r="1.6" fill="#eec696"/>
<circle cx="81.42" cy="162.10" r="1.6" fill="#eec696"/>
<circle cx="72.97" cy="166.08" r="1.6" fill="#eca050"/>
<circle cx="69.07" cy="167.74" r="1.6" fill="#eca050"/>
<circle cx="62.31" cy="170.36" r="1.6" fill="#84192a"/>
<circle cx="61.24" cy="170.75" r="1.6" fill="#c02a3a"/>
<circle cx="59.72" cy="171.29" r="1.6" fill="#c02a3a"/>
<circle cx="51.16" cy="174.04" r="1.6" fill="#84192a"/>
<circle cx="48.87" cy="174.69" r="1.6" fill="#84192a"/>
<circle cx="43.15" cy="176.19" r="1.6" fill="#eec696"/>
<circle cx="35.64" cy="177.86" r="1.6" fill="#e08472"/>
<circle cx="33.15" cy="178.35" r="1.6" fill="#e08472"/>
<circle cx="29.81" cy="178.93" r="1.6" fill="#e08472"/>
<circle cx="24.09" cy="179.79" r="1.6" fill="#e08472"/>
<circle cx="19.09" cy="180.39" r="1.6" fill="#c02a3a"/>
<circle cx="16.25" cy="180.67" r="1.6" fill="#c02a3a"/>
<circle cx="13.29" cy="180.91" r="1.6" fill="#c02a3a"/>
<circle cx="0.09" cy="181.40" r="1.6" fill="#f4dea4"/>
<circle cx="-13.19" cy="180.92" r="1.6" fill="#c02a3a"/>
<circle cx="-17.48" cy="180.56" r="1.6" fill="#c02a3a"/>
<circle cx="-20.85" cy="180.20" r="1.6" fill="#c02a3a"/>
<circle cx="-23.61" cy="179.86" r="1.6" fill="#c02a3a"/>
<circle cx="-26.97" cy="179.38" r="1.6" fill="#c02a3a"/>
<circle cx="-29.06" cy="179.06" r="1.6" fill="#c02a3a"/>
<circle cx="-37.25" cy="177.53" r="1.6" fill="#c02a3a"/>
<circle cx="-41.39" cy="176.61" r="1.6" fill="#84192a"/>
<circle cx="-44.84" cy="175.77" r="1.6" fill="#eca050"/>
<circle cx="-47.26" cy="175.14" r="1.6" fill="#eca050"/>
<circle cx="-56.63" cy="172.33" r="1.6" fill="#361628"/>
<circle cx="-63.11" cy="170.07" r="1.6" fill="#eec696"/>
<circle cx="-65.57" cy="169.13" r="1.6" fill="#e08472"/>
<circle cx="-68.77" cy="167.86" r="1.6" fill="#e08472"/>
<circle cx="-71.40" cy="166.76" r="1.6" fill="#e08472"/>
<circle cx="-83.03" cy="161.28" r="1.6" fill="#e08472"/>
<circle cx="-87.97" cy="158.64" r="1.6" fill="#84192a"/>
<circle cx="-90.07" cy="157.46" r="1.6" fill="#e08472"/>
<circle cx="-92.53" cy="156.03" r="1.6" fill="#e08472"/>
<circle cx="-96.10" cy="153.85" r="1.6" fill="#84192a"/>
<circle cx="-96.58" cy="153.55" r="1.6" fill="#361628"/>
<circle cx="-100.36" cy="151.11" r="1.6" fill="#84192a"/>
<circle cx="-102.09" cy="149.94" r="1.6" fill="#84192a"/>
<circle cx="-106.80" cy="146.63" r="1.6" fill="#eec696"/>
<circle cx="-110.93" cy="143.53" r="1.6" fill="#84192a"/>
<circle cx="-116.58" cy="138.98" r="1.6" fill="#e08472"/>
<circle cx="-118.67" cy="137.19" r="1.6" fill="#e08472"/>
<circle cx="-122.90" cy="133.42" r="1.6" fill="#84192a"/>
<circle cx="-129.78" cy="126.74" r="1.6" fill="#84192a"/>
<circle cx="-132.97" cy="123.39" r="1.6" fill="#e08472"/>
<circle cx="-134.70" cy="121.50" r="1.6" fill="#e08472"/>
<circle cx="-139.43" cy="116.04" r="1.6" fill="#e08472"/>
<circle cx="-142.77" cy="111.91" r="1.6" fill="#84192a"/>
<circle cx="-143.80" cy="110.58" r="1.6" fill="#84192a"/>
<circle cx="-148.56" cy="104.10" r="1.6" fill="#e08472"/>
<circle cx="-151.48" cy="99.80" r="1.6" fill="#84192a"/>
<circle cx="-153.11" cy="97.28" r="1.6" fill="#e08472"/>
<circle cx="-158.12" cy="88.91" r="1.6" fill="#eca050"/>
<circle cx="-160.61" cy="84.32" r="1.6" fill="#eca050"/>
<circle cx="-163.07" cy="79.46" r="1.6" fill="#eec696"/>
<circle cx="-165.37" cy="74.56" r="1.6" fill="#84192a"/>
<circle cx="-169.83" cy="63.74" r="1.6" fill="#eca050"/>
<circle cx="-171.50" cy="59.12" r="1.6" fill="#eca050"/>
<circle cx="-173.25" cy="53.76" r="1.6" fill="#e08472"/>
<circle cx="-175.80" cy="44.71" r="1.6" fill="#e08472"/>
<circle cx="-176.57" cy="41.58" r="1.6" fill="#361628"/>
<circle cx="-177.49" cy="37.47" r="1.6" fill="#e08472"/>
<circle cx="-178.30" cy="33.37" r="1.6" fill="#84192a"/>
<circle cx="-179.16" cy="28.44" r="1.6" fill="#84192a"/>
<circle cx="-179.56" cy="25.78" r="1.6" fill="#c02a3a"/>
<circle cx="-180.77" cy="15.05" r="1.6" fill="#f4dea4"/>
<circle cx="-181.27" cy="6.77" r="1.6" fill="#eec696"/>
<circle cx="-181.36" cy="3.67" r="1.6" fill="#eca050"/>
<circle cx="-181.39" cy="-1.58" r="1.6" fill="#f4dea4"/>
<circle cx="-181.22" cy="-8.17" r="1.6" fill="#84192a"/>
<circle cx="-180.79" cy="-14.83" r="1.6" fill="#84192a"/>
<circle cx="-180.30" cy="-19.94" r="1.6" fill="#eec696"/>
<circle cx="-178.90" cy="-30.03" r="1.6" fill="#eca050"/>
<circle cx="-177.71" cy="-36.41" r="1.6" fill="#eec696"/>
<circle cx="-176.78" cy="-40.68" r="1.6" fill="#f4dea4"/>
<circle cx="-175.19" cy="-47.04" r="1.6" fill="#e08472"/>
<circle cx="-174.16" cy="-50.73" r="1.6" fill="#c02a3a"/>
<circle cx="-173.03" cy="-54.46" r="1.6" fill="#c02a3a"/>
<circle cx="-171.25" cy="-59.84" r="1.6" fill="#eca050"/>
<circle cx="-167.60" cy="-69.39" r="1.6" fill="#f4dea4"/>
<circle cx="-161.69" cy="-82.24" r="1.6" fill="#c02a3a"/>
<circle cx="-159.85" cy="-85.75" r="1.6" fill="#e08472"/>
<circle cx="-157.68" cy="-89.68" r="1.6" fill="#c02a3a"/>
<circle cx="-154.95" cy="-94.32" r="1.6" fill="#84192a"/>
<circle cx="-153.95" cy="-95.94" r="1.6" fill="#c02a3a"/>
<circle cx="-147.26" cy="-105.93" r="1.6" fill="#c02a3a"/>
<circle cx="-139.31" cy="-116.19" r="1.6" fill="#e08472"/>
<circle cx="-136.78" cy="-119.15" r="1.6" fill="#c02a3a"/>
<circle cx="-132.10" cy="-124.32" r="1.6" fill="#c02a3a"/>
<circle cx="-128.09" cy="-128.45" r="1.6" fill="#e08472"/>
<circle cx="-123.67" cy="-132.71" r="1.6" fill="#eca050"/>
<circle cx="-118.34" cy="-137.48" r="1.6" fill="#c02a3a"/>
<circle cx="-115.53" cy="-139.85" r="1.6" fill="#c02a3a"/>
<circle cx="-110.61" cy="-143.78" r="1.6" fill="#eec696"/>
<circle cx="-107.06" cy="-146.44" r="1.6" fill="#84192a"/>
<circle cx="-96.90" cy="-153.35" r="1.6" fill="#84192a"/>
<circle cx="-90.10" cy="-157.44" r="1.6" fill="#c02a3a"/>
<circle cx="-81.22" cy="-162.20" r="1.6" fill="#c02a3a"/>
<circle cx="-76.23" cy="-164.60" r="1.6" fill="#84192a"/>
<circle cx="-71.93" cy="-166.53" r="1.6" fill="#c02a3a"/>
<circle cx="-67.98" cy="-168.18" r="1.6" fill="#e08472"/>
<circle cx="-65.72" cy="-169.08" r="1.6" fill="#eca050"/>
<circle cx="-52.82" cy="-173.54" r="1.6" fill="#84192a"/>
<circle cx="-50.91" cy="-174.11" r="1.6" fill="#c02a3a"/>
<circle cx="-45.30" cy="-175.65" r="1.6" fill="#84192a"/>
<circle cx="-23.49" cy="-179.87" r="1.6" fill="#84192a"/>
<circle cx="-17.04" cy="-180.60" r="1.6" fill="#84192a"/>
<circle cx="1.72" cy="-169.79" r="1.6" fill="#6c9e9e"/>
<circle cx="7.85" cy="-169.62" r="1.6" fill="#2a8a94"/>
<circle cx="31.82" cy="-166.79" r="1.6" fill="#2c5e92"/>
<circle cx="45.09" cy="-163.70" r="1.6" fill="#2c5e92"/>
<circle cx="51.06" cy="-161.94" r="1.6" fill="#2c5e92"/>
<circle cx="61.32" cy="-158.34" r="1.6" fill="#2a8a94"/>
<circle cx="68.66" cy="-155.30" r="1.6" fill="#2c5e92"/>
<circle cx="75.84" cy="-151.92" r="1.6" fill="#9cbe9c"/>
<circle cx="90.53" cy="-143.65" r="1.6" fill="#2a8a94"/>
<circle cx="103.11" cy="-134.91" r="1.6" fill="#6c9e9e"/>
<circle cx="109.82" cy="-129.50" r="1.6" fill="#2c5e92"/>
<circle cx="120.76" cy="-119.37" r="1.6" fill="#1c2458"/>
<circle cx="129.88" cy="-109.37" r="1.6" fill="#1c2458"/>
<circle cx="132.26" cy="-106.49" r="1.6" fill="#b4c8c8"/>
<circle cx="144.19" cy="-89.68" r="1.6" fill="#1c2458"/>
<circle cx="154.87" cy="-69.63" r="1.6" fill="#6c9e9e"/>
<circle cx="156.94" cy="-64.82" r="1.6" fill="#2a8a94"/>
<circle cx="162.41" cy="-49.56" r="1.6" fill="#2c5e92"/>
<circle cx="167.12" cy="-30.07" r="1.6" fill="#2c5e92"/>
<circle cx="167.49" cy="-27.91" r="1.6" fill="#2c5e92"/>
<circle cx="168.16" cy="-23.57" r="1.6" fill="#2c5e92"/>
<circle cx="168.67" cy="-19.58" r="1.6" fill="#1c2458"/>
<circle cx="169.45" cy="-10.90" r="1.6" fill="#1c2458"/>
<circle cx="169.71" cy="-5.60" r="1.6" fill="#1c2458"/>
<circle cx="169.71" cy="5.51" r="1.6" fill="#9cbe9c"/>
<circle cx="169.40" cy="11.70" r="1.6" fill="#2c5e92"/>
<circle cx="169.11" cy="15.30" r="1.6" fill="#2c5e92"/>
<circle cx="168.79" cy="18.49" r="1.6" fill="#1c2458"/>
<circle cx="167.71" cy="26.53" r="1.6" fill="#f4dea4"/>
<circle cx="166.51" cy="33.27" r="1.6" fill="#2c5e92"/>
<circle cx="163.77" cy="44.86" r="1.6" fill="#2c5e92"/>
<circle cx="159.15" cy="59.19" r="1.6" fill="#1c2458"/>
<circle cx="157.72" cy="62.89" r="1.6" fill="#b4c8c8"/>
<circle cx="153.87" cy="71.81" r="1.6" fill="#2c5e92"/>
<circle cx="133.31" cy="105.17" r="1.6" fill="#9cbe9c"/>
<circle cx="127.07" cy="112.62" r="1.6" fill="#2c5e92"/>
<circle cx="122.72" cy="117.35" r="1.6" fill="#1c2458"/>
<circle cx="111.38" cy="128.17" r="1.6" fill="#1c2458"/>
<circle cx="105.08" cy="133.38" r="1.6" fill="#2c5e92"/>
<circle cx="103.20" cy="134.84" r="1.6" fill="#2c5e92"/>
<circle cx="101.71" cy="135.96" r="1.6" fill="#1c2458"/>
<circle cx="97.34" cy="139.13" r="1.6" fill="#2c5e92"/>
<circle cx="72.46" cy="153.56" r="1.6" fill="#2c5e92"/>
<circle cx="70.25" cy="154.59" r="1.6" fill="#2a8a94"/>
<circle cx="57.27" cy="159.85" r="1.6" fill="#9cbe9c"/>
<circle cx="53.09" cy="161.29" r="1.6" fill="#2c5e92"/>
<circle cx="47.74" cy="162.95" r="1.6" fill="#1c2458"/>
<circle cx="40.13" cy="164.99" r="1.6" fill="#1c2458"/>
<circle cx="29.51" cy="167.22" r="1.6" fill="#6c9e9e"/>
<circle cx="11.93" cy="169.38" r="1.6" fill="#1c2458"/>
<circle cx="8.80" cy="169.57" r="1.6" fill="#1c2458"/>
<circle cx="-9.83" cy="169.52" r="1.6" fill="#1c2458"/>
<circle cx="-12.79" cy="169.32" r="1.6" fill="#6c9e9e"/>
<circle cx="-42.31" cy="164.44" r="1.6" fill="#2c5e92"/>
<circle cx="-44.38" cy="163.90" r="1.6" fill="#1c2458"/>
<circle cx="-57.71" cy="159.69" r="1.6" fill="#2c5e92"/>
<circle cx="-66.56" cy="156.21" r="1.6" fill="#6c9e9e"/>
<circle cx="-82.66" cy="148.32" r="1.6" fill="#1c2458"/>
<circle cx="-85.13" cy="146.92" r="1.6" fill="#1c2458"/>
<circle cx="-90.98" cy="143.37" r="1.6" fill="#9cbe9c"/>
<circle cx="-95.27" cy="140.55" r="1.6" fill="#1c2458"/>
<circle cx="-99.64" cy="137.49" r="1.6" fill="#b4c8c8"/>
<circle cx="-110.21" cy="129.17" r="1.6" fill="#6c9e9e"/>
<circle cx="-115.13" cy="124.81" r="1.6" fill="#b4c8c8"/>
<circle cx="-139.19" cy="97.25" r="1.6" fill="#6c9e9e"/>
<circle cx="-148.32" cy="82.66" r="1.6" fill="#b4c8c8"/>
<circle cx="-149.91" cy="79.74" r="1.6" fill="#1c2458"/>
<circle cx="-152.68" cy="74.30" r="1.6" fill="#6c9e9e"/>
<circle cx="-155.31" cy="68.63" r="1.6" fill="#6c9e9e"/>
<circle cx="-158.29" cy="61.46" r="1.6" fill="#2a8a94"/>
<circle cx="-159.75" cy="57.55" r="1.6" fill="#2a8a94"/>
<circle cx="-166.24" cy="34.58" r="1.6" fill="#9cbe9c"/>
<circle cx="-168.00" cy="24.66" r="1.6" fill="#1c2458"/>
<circle cx="-169.40" cy="11.58" r="1.6" fill="#1c2458"/>
<circle cx="-169.60" cy="8.29" r="1.6" fill="#1c2458"/>
<circle cx="-169.79" cy="1.69" r="1.6" fill="#1c2458"/>
<circle cx="-169.80" cy="0.21" r="1.6" fill="#1c2458"/>
<circle cx="-169.48" cy="-10.43" r="1.6" fill="#9cbe9c"/>
<circle cx="-167.48" cy="-27.97" r="1.6" fill="#1c2458"/>
<circle cx="-165.23" cy="-39.12" r="1.6" fill="#b4c8c8"/>
<circle cx="-164.53" cy="-41.97" r="1.6" fill="#1c2458"/>
<circle cx="-163.75" cy="-44.92" r="1.6" fill="#1c2458"/>
<circle cx="-161.49" cy="-52.47" r="1.6" fill="#1c2458"/>
<circle cx="-160.26" cy="-56.12" r="1.6" fill="#b4c8c8"/>
<circle cx="-156.77" cy="-65.23" r="1.6" fill="#2c5e92"/>
<circle cx="-154.60" cy="-70.23" r="1.6" fill="#2a8a94"/>
<circle cx="-153.20" cy="-73.23" r="1.6" fill="#2a8a94"/>
<circle cx="-150.57" cy="-78.48" r="1.6" fill="#6c9e9e"/>
<circle cx="-146.44" cy="-85.95" r="1.6" fill="#2a8a94"/>
<circle cx="-143.11" cy="-91.38" r="1.6" fill="#1c2458"/>
<circle cx="-132.94" cy="-105.63" r="1.6" fill="#b4c8c8"/>
<circle cx="-127.90" cy="-111.69" r="1.6" fill="#2c5e92"/>
<circle cx="-122.90" cy="-117.16" r="1.6" fill="#1c2458"/>
<circle cx="-115.33" cy="-124.63" r="1.6" fill="#b4c8c8"/>
<circle cx="-112.62" cy="-127.07" r="1.6" fill="#1c2458"/>
<circle cx="-109.46" cy="-129.81" r="1.6" fill="#6c9e9e"/>
<circle cx="-81.23" cy="-149.11" r="1.6" fill="#2a8a94"/>
<circle cx="-66.16" cy="-156.38" r="1.6" fill="#1c2458"/>
<circle cx="-60.96" cy="-158.48" r="1.6" fill="#2a8a94"/>
<circle cx="-47.80" cy="-162.93" r="1.6" fill="#6c9e9e"/>
<circle cx="-45.55" cy="-163.58" r="1.6" fill="#6c9e9e"/>
<circle cx="-43.12" cy="-164.23" r="1.6" fill="#2a8a94"/>
</g>
<g transform="translate(269.0,567.0)">
<path d="M-60.81 -197.66A206.8 206.8 0 0 1 78.81 -191.20" fill="none" stroke="#e2e2e2" stroke-width="0.9"/>
<path d="M-58.23 -186.94A195.8 195.8 0 0 1 72.71 -181.80" fill="none" stroke="#e2e2e2" stroke-width="0.9"/>
<path d="M-70.30 -219.62A230.6 230.6 0 0 1 -53.10 -224.40L-50.71 -214.28A220.2 220.2 0 0 0 -67.13 -209.72Z" fill="#6a4a52" stroke="#3a2a2a" stroke-width="0.45"/>
<path d="M-53.10 -224.40A230.6 230.6 0 0 1 -49.80 -225.16L-47.55 -215.00A220.2 220.2 0 0 0 -50.71 -214.28Z" fill="#fbeef0" stroke="#3a2a2a" stroke-width="0.45"/>
<path d="M-49.80 -225.16A230.6 230.6 0 0 1 -40.00 -227.10L-38.20 -216.86A220.2 220.2 0 0 0 -47.55 -215.00Z" fill="#e2c2c8" stroke="#3a2a2a" stroke-width="0.45"/>
<path d="M-40.00 -227.10A230.6 230.6 0 0 1 -38.90 -227.30L-37.15 -217.04A220.2 220.2 0 0 0 -38.20 -216.86Z" fill="#6a4a52" stroke="#3a2a2a" stroke-width="0.45"/>
<path d="M-38.90 -227.30A230.6 230.6 0 0 1 -32.30 -228.33L-30.84 -218.03A220.2 220.2 0 0 0 -37.15 -217.04Z" fill="#f6d6da" stroke="#3a2a2a" stroke-width="0.45"/>
<path d="M-32.30 -228.33A230.6 230.6 0 0 1 -31.20 -228.48L-29.79 -218.18A220.2 220.2 0 0 0 -30.84 -218.03Z" fill="#9a7a80" stroke="#3a2a2a" stroke-width="0.45"/>
<path d="M-31.20 -228.48A230.6 230.6 0 0 1 -29.00 -228.77L-27.69 -218.45A220.2 220.2 0 0 0 -29.79 -218.18Z" fill="#e8c6cc" stroke="#3a2a2a" stroke-width="0.45"/>
<path d="M-29.00 -228.77A230.6 230.6 0 0 1 -18.40 -229.86L-17.57 -219.50A220.2 220.2 0 0 0 -27.69 -218.45Z" fill="#f8dadd" stroke="#3a2a2a" stroke-width="0.45"/>
<path d="M-18.40 -229.86A230.6 230.6 0 0 1 -17.60 -229.93L-16.81 -219.56A220.2 220.2 0 0 0 -17.57 -219.50Z" fill="#8a6a70" stroke="#3a2a2a" stroke-width="0.45"/>
<path d="M-17.60 -229.93A230.6 230.6 0 0 1 -11.10 -230.33L-10.60 -219.94A220.2 220.2 0 0 0 -16.81 -219.56Z" fill="#dcb8c0" stroke="#3a2a2a" stroke-width="0.45"/>
<path d="M-11.10 -230.33A230.6 230.6 0 0 1 -3.70 -230.57L-3.53 -220.17A220.2 220.2 0 0 0 -10.60 -219.94Z" fill="#f8dce0" stroke="#3a2a2a" stroke-width="0.45"/>
<path d="M-3.70 -230.57A230.6 230.6 0 0 1 7.90 -230.46L7.54 -220.07A220.2 220.2 0 0 0 -3.53 -220.17Z" fill="#5e4048" stroke="#3a2a2a" stroke-width="0.45"/>
<path d="M7.90 -230.46A230.6 230.6 0 0 1 14.50 -230.14L13.85 -219.76A220.2 220.2 0 0 0 7.54 -220.07Z" fill="#f8dce0" stroke="#3a2a2a" stroke-width="0.45"/>
<path d="M14.50 -230.14A230.6 230.6 0 0 1 18.30 -229.87L17.47 -219.51A220.2 220.2 0 0 0 13.85 -219.76Z" fill="#d8b0b8" stroke="#3a2a2a" stroke-width="0.45"/>
<path d="M18.30 -229.87A230.6 230.6 0 0 1 28.70 -228.81L27.41 -218.49A220.2 220.2 0 0 0 17.47 -219.51Z" fill="#f8dade" stroke="#3a2a2a" stroke-width="0.45"/>
<path d="M28.70 -228.81A230.6 230.6 0 0 1 39.10 -227.26L37.34 -217.01A220.2 220.2 0 0 0 27.41 -218.49Z" fill="#4e3038" stroke="#3a2a2a" stroke-width="0.45"/>
<path d="M39.10 -227.26A230.6 230.6 0 0 1 41.70 -226.80L39.82 -216.57A220.2 220.2 0 0 0 37.34 -217.01Z" fill="#fbeef0" stroke="#3a2a2a" stroke-width="0.45"/>
<path d="M41.70 -226.80A230.6 230.6 0 0 1 51.20 -224.84L48.89 -214.70A220.2 220.2 0 0 0 39.82 -216.57Z" fill="#e0bcc4" stroke="#3a2a2a" stroke-width="0.45"/>
<path d="M51.20 -224.84A230.6 230.6 0 0 1 58.10 -223.16L55.48 -213.10A220.2 220.2 0 0 0 48.89 -214.70Z" fill="#f8d8dc" stroke="#3a2a2a" stroke-width="0.45"/>
<path d="M58.10 -223.16A230.6 230.6 0 0 1 64.10 -221.51L61.21 -211.52A220.2 220.2 0 0 0 55.48 -213.10Z" fill="#dcb4bc" stroke="#3a2a2a" stroke-width="0.45"/>
<path d="M64.10 -221.51A230.6 230.6 0 0 1 77.10 -217.33L73.62 -207.53A220.2 220.2 0 0 0 61.21 -211.52Z" fill="#fadadc" stroke="#3a2a2a" stroke-width="0.45"/>
<path d="M77.10 -217.33A230.6 230.6 0 0 1 81.40 -215.76L77.73 -206.02A220.2 220.2 0 0 0 73.62 -207.53Z" fill="#dcb4bc" stroke="#3a2a2a" stroke-width="0.45"/>
<path d="M81.40 -215.76A230.6 230.6 0 0 1 88.62 -212.89L84.62 -203.29A220.2 220.2 0 0 0 77.73 -206.02Z" fill="#f8dade" stroke="#3a2a2a" stroke-width="0.45"/>
<path d="M-70.30 -219.62A230.6 230.6 0 0 1 88.62 -212.89L84.62 -203.29A220.2 220.2 0 0 0 -67.13 -209.72Z" fill="none" stroke="#333" stroke-width="0.6"/>
<text transform="translate(-59.88,-223.93) rotate(-15.0)" font-size="5.3" fill="#333" text-anchor="middle" dy="-0.6">100</text>
<text transform="translate(-48.95,-226.57) rotate(-12.2)" font-size="5.3" fill="#333" text-anchor="middle" dy="-0.6">200</text>
<text transform="translate(-37.91,-228.68) rotate(-9.4)" font-size="5.3" fill="#333" text-anchor="middle" dy="-0.6">300</text>
<text transform="translate(-26.78,-230.25) rotate(-6.6)" font-size="5.3" fill="#333" text-anchor="middle" dy="-0.6">400</text>
<text transform="translate(-4.35,-231.76) rotate(-1.1)" font-size="5.3" fill="#333" text-anchor="middle" dy="-0.6">600</text>
<text transform="translate(6.89,-231.70) rotate(1.7)" font-size="5.3" fill="#333" text-anchor="middle" dy="-0.6">700</text>
<text transform="translate(18.11,-231.09) rotate(4.5)" font-size="5.3" fill="#333" text-anchor="middle" dy="-0.6">800</text>
<text transform="translate(29.29,-229.94) rotate(7.3)" font-size="5.3" fill="#333" text-anchor="middle" dy="-0.6">900</text>
<text transform="translate(51.43,-226.02) rotate(12.8)" font-size="5.3" fill="#333" text-anchor="middle" dy="-0.6" textLength="9.6" lengthAdjust="spacingAndGlyphs">1100</text>
<text transform="translate(62.32,-223.26) rotate(15.6)" font-size="5.3" fill="#333" text-anchor="middle" dy="-0.6" textLength="9.6" lengthAdjust="spacingAndGlyphs">1200</text>
<text transform="translate(73.08,-219.98) rotate(18.4)" font-size="5.3" fill="#333" text-anchor="middle" dy="-0.6" textLength="9.6" lengthAdjust="spacingAndGlyphs">1300</text>
<text transform="translate(83.65,-216.18) rotate(21.2)" font-size="5.3" fill="#333" text-anchor="middle" dy="-0.6" textLength="9.6" lengthAdjust="spacingAndGlyphs">1400</text>
<circle cx="-46.27" cy="-201.56" r="1.6" fill="#361628"/>
<circle cx="-37.69" cy="-203.34" r="1.6" fill="#361628"/>
<circle cx="-33.27" cy="-204.11" r="1.6" fill="#eca050"/>
<circle cx="-28.97" cy="-204.76" r="1.6" fill="#eca050"/>
<circle cx="-14.26" cy="-206.31" r="1.6" fill="#e08472"/>
<circle cx="-9.98" cy="-206.56" r="1.6" fill="#361628"/>
<circle cx="-1.30" cy="-206.80" r="1.6" fill="#e08472"/>
<circle cx="13.17" cy="-206.38" r="1.6" fill="#eec696"/>
<circle cx="16.14" cy="-206.17" r="1.6" fill="#361628"/>
<circle cx="24.97" cy="-205.29" r="1.6" fill="#e08472"/>
<circle cx="32.29" cy="-204.26" r="1.6" fill="#361628"/>
<circle cx="36.37" cy="-203.58" r="1.6" fill="#c02a3a"/>
<circle cx="38.50" cy="-203.19" r="1.6" fill="#c02a3a"/>
<circle cx="42.29" cy="-202.43" r="1.6" fill="#361628"/>
<circle cx="48.08" cy="-201.13" r="1.6" fill="#84192a"/>
<circle cx="60.65" cy="-197.70" r="1.6" fill="#84192a"/>
<circle cx="-43.17" cy="-190.98" r="1.6" fill="#2c5e92"/>
<circle cx="-27.55" cy="-193.85" r="1.6" fill="#1c2458"/>
<circle cx="12.46" cy="-195.40" r="1.6" fill="#1c2458"/>
<circle cx="34.45" cy="-192.74" r="1.6" fill="#2c5e92"/>
<circle cx="38.88" cy="-191.90" r="1.6" fill="#1c2458"/>
<circle cx="44.96" cy="-190.57" r="1.6" fill="#1c2458"/>
<circle cx="57.15" cy="-187.28" r="1.6" fill="#2a8a94"/>
</g>
<text x="279.3" y="322.6" font-size="6.5" font-weight="bold" font-family="Liberation Serif, serif" text-anchor="middle">7</text>
<g transform="translate(258.2,659.6)">
<path d="M-53.84 -209.70A216.5 216.5 0 0 1 81.10 -200.74" fill="none" stroke="#e2e2e2" stroke-width="0.9"/>
<path d="M-51.42 -197.41A204.0 204.0 0 0 1 75.76 -189.41" fill="none" stroke="#e2e2e2" stroke-width="0.9"/>
<path d="M-63.18 -235.78A244.1 244.1 0 0 1 -41.20 -240.60L-39.14 -228.57A231.9 231.9 0 0 0 -60.02 -224.00Z" fill="#123a08" stroke="#3a2a2a" stroke-width="0.45"/>
<path d="M-41.20 -240.60A244.1 244.1 0 0 1 -34.70 -241.62L-32.97 -229.54A231.9 231.9 0 0 0 -39.14 -228.57Z" fill="#98d080" stroke="#3a2a2a" stroke-width="0.45"/>
<path d="M-34.70 -241.62A244.1 244.1 0 0 1 -24.10 -242.91L-22.90 -230.77A231.9 231.9 0 0 0 -32.97 -229.54Z" fill="#5a9040" stroke="#3a2a2a" stroke-width="0.45"/>
<path d="M-24.10 -242.91A244.1 244.1 0 0 1 -20.00 -243.28L-19.00 -231.12A231.9 231.9 0 0 0 -22.90 -230.77Z" fill="#80b868" stroke="#3a2a2a" stroke-width="0.45"/>
<path d="M-20.00 -243.28A244.1 244.1 0 0 1 -8.60 -243.95L-8.17 -231.76A231.9 231.9 0 0 0 -19.00 -231.12Z" fill="#70a858" stroke="#3a2a2a" stroke-width="0.45"/>
<path d="M-8.60 -243.95A244.1 244.1 0 0 1 -5.30 -244.04L-5.04 -231.85A231.9 231.9 0 0 0 -8.17 -231.76Z" fill="#88c070" stroke="#3a2a2a" stroke-width="0.45"/>
<path d="M-5.30 -244.04A244.1 244.1 0 0 1 5.30 -244.04L5.04 -231.85A231.9 231.9 0 0 0 -5.04 -231.85Z" fill="#6aa050" stroke="#3a2a2a" stroke-width="0.45"/>
<path d="M5.30 -244.04A244.1 244.1 0 0 1 12.80 -243.76L12.16 -231.58A231.9 231.9 0 0 0 5.04 -231.85Z" fill="#88c070" stroke="#3a2a2a" stroke-width="0.45"/>
<path d="M12.80 -243.76A244.1 244.1 0 0 1 14.60 -243.66L13.87 -231.48A231.9 231.9 0 0 0 12.16 -231.58Z" fill="#4a8030" stroke="#3a2a2a" stroke-width="0.45"/>
<path d="M14.60 -243.66A244.1 244.1 0 0 1 17.20 -243.49L16.34 -231.32A231.9 231.9 0 0 0 13.87 -231.48Z" fill="#80b868" stroke="#3a2a2a" stroke-width="0.45"/>
<path d="M17.20 -243.49A244.1 244.1 0 0 1 26.70 -242.64L25.37 -230.51A231.9 231.9 0 0 0 16.34 -231.32Z" fill="#8cc474" stroke="#3a2a2a" stroke-width="0.45"/>
<path d="M26.70 -242.64A244.1 244.1 0 0 1 28.40 -242.44L26.98 -230.33A231.9 231.9 0 0 0 25.37 -230.51Z" fill="#3a7028" stroke="#3a2a2a" stroke-width="0.45"/>
<path d="M28.40 -242.44A244.1 244.1 0 0 1 37.60 -241.19L35.72 -229.13A231.9 231.9 0 0 0 26.98 -230.33Z" fill="#6aa050" stroke="#3a2a2a" stroke-width="0.45"/>
<path d="M37.60 -241.19A244.1 244.1 0 0 1 40.50 -240.72L38.48 -228.69A231.9 231.9 0 0 0 35.72 -229.13Z" fill="#8cc474" stroke="#3a2a2a" stroke-width="0.45"/>
<path d="M40.50 -240.72A244.1 244.1 0 0 1 59.60 -236.71L56.62 -224.88A231.9 231.9 0 0 0 38.48 -228.69Z" fill="#0e3006" stroke="#3a2a2a" stroke-width="0.45"/>
<path d="M59.60 -236.71A244.1 244.1 0 0 1 72.10 -233.21L68.50 -221.55A231.9 231.9 0 0 0 56.62 -224.88Z" fill="#8cc474" stroke="#3a2a2a" stroke-width="0.45"/>
<path d="M72.10 -233.21A244.1 244.1 0 0 1 73.40 -232.80L69.73 -221.17A231.9 231.9 0 0 0 68.50 -221.55Z" fill="#3a7028" stroke="#3a2a2a" stroke-width="0.45"/>
<path d="M73.40 -232.80A244.1 244.1 0 0 1 77.70 -231.40L73.82 -219.84A231.9 231.9 0 0 0 69.73 -221.17Z" fill="#6aa050" stroke="#3a2a2a" stroke-width="0.45"/>
<path d="M77.70 -231.40A244.1 244.1 0 0 1 84.70 -228.93L80.47 -217.49A231.9 231.9 0 0 0 73.82 -219.84Z" fill="#8cc474" stroke="#3a2a2a" stroke-width="0.45"/>
<path d="M84.70 -228.93A244.1 244.1 0 0 1 87.30 -227.96L82.94 -216.56A231.9 231.9 0 0 0 80.47 -217.49Z" fill="#4a8030" stroke="#3a2a2a" stroke-width="0.45"/>
<path d="M87.30 -227.96A244.1 244.1 0 0 1 91.44 -226.33L86.87 -215.01A231.9 231.9 0 0 0 82.94 -216.56Z" fill="#78b060" stroke="#3a2a2a" stroke-width="0.45"/>
<path d="M-63.18 -235.78A244.1 244.1 0 0 1 91.44 -226.33L86.87 -215.01A231.9 231.9 0 0 0 -60.02 -224.00Z" fill="none" stroke="#333" stroke-width="0.6"/>
<text transform="translate(-50.79,-239.98) rotate(-11.9)" font-size="5.3" fill="#333" text-anchor="middle" dy="-0.6">100</text>
<text transform="translate(-37.95,-242.35) rotate(-8.9)" font-size="5.3" fill="#333" text-anchor="middle" dy="-0.6">200</text>
<text transform="translate(-25.00,-244.02) rotate(-5.8)" font-size="5.3" fill="#333" text-anchor="middle" dy="-0.6">300</text>
<text transform="translate(-11.98,-245.01) rotate(-2.8)" font-size="5.3" fill="#333" text-anchor="middle" dy="-0.6">400</text>
<text transform="translate(14.13,-244.89) rotate(3.3)" font-size="5.3" fill="#333" text-anchor="middle" dy="-0.6">600</text>
<text transform="translate(27.14,-243.79) rotate(6.4)" font-size="5.3" fill="#333" text-anchor="middle" dy="-0.6">700</text>
<text transform="translate(40.07,-242.00) rotate(9.4)" font-size="5.3" fill="#333" text-anchor="middle" dy="-0.6">800</text>
<text transform="translate(52.89,-239.53) rotate(12.5)" font-size="5.3" fill="#333" text-anchor="middle" dy="-0.6">900</text>
<text transform="translate(78.05,-232.55) rotate(18.6)" font-size="5.3" fill="#333" text-anchor="middle" dy="-0.6" textLength="9.6" lengthAdjust="spacingAndGlyphs">1100</text>
<text transform="translate(90.31,-228.07) rotate(21.6)" font-size="5.3" fill="#333" text-anchor="middle" dy="-0.6" textLength="9.6" lengthAdjust="spacingAndGlyphs">1200</text>
<circle cx="-50.86" cy="-210.44" r="1.6" fill="#84192a"/>
<circle cx="-46.02" cy="-211.55" r="1.6" fill="#e08472"/>
<circle cx="-22.53" cy="-215.32" r="1.6" fill="#b4c8c8"/>
<circle cx="-8.21" cy="-216.34" r="1.6" fill="#84192a"/>
<circle cx="1.70" cy="-216.49" r="1.6" fill="#e08472"/>
<circle cx="30.76" cy="-214.30" r="1.6" fill="#c02a3a"/>
<circle cx="34.25" cy="-213.77" r="1.6" fill="#eca050"/>
<circle cx="41.08" cy="-212.57" r="1.6" fill="#eca050"/>
<circle cx="44.20" cy="-211.94" r="1.6" fill="#c02a3a"/>
<circle cx="60.96" cy="-207.74" r="1.6" fill="#f4dea4"/>
<circle cx="75.95" cy="-202.74" r="1.6" fill="#c02a3a"/>
<circle cx="-19.97" cy="-203.02" r="1.6" fill="#6c9e9e"/>
<circle cx="32.18" cy="-201.45" r="1.6" fill="#9cbe9c"/>
<circle cx="39.76" cy="-200.09" r="1.6" fill="#1c2458"/>
<circle cx="57.49" cy="-195.73" r="1.6" fill="#2c5e92"/>
<circle cx="74.25" cy="-190.01" r="1.6" fill="#6c9e9e"/>
</g>
<text x="274.3" y="401.0" font-size="6.5" font-weight="bold" font-family="Liberation Serif, serif" text-anchor="middle">13</text>
</svg></body></html>
